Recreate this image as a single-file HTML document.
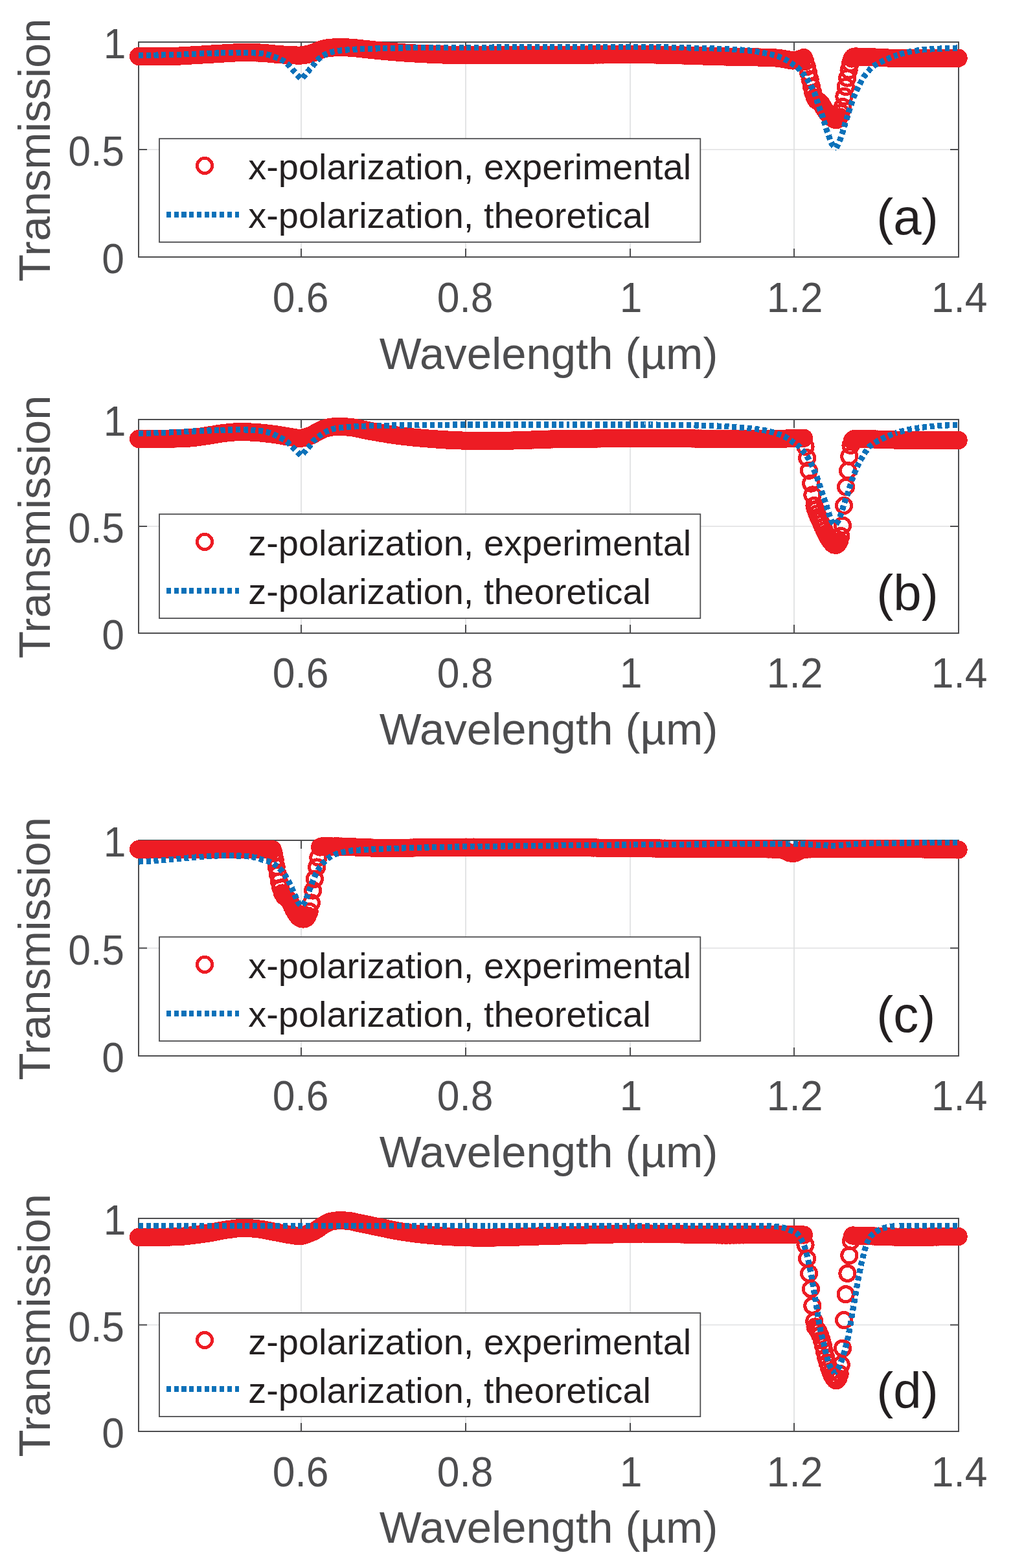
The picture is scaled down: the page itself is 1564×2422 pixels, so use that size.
<!DOCTYPE html>
<html lang="en"><head><meta charset="utf-8"><title>Transmission spectra</title>
<style>html,body{margin:0;padding:0;background:#fff}svg{display:block}text{font-family:"Liberation Sans",Arial,Helvetica,sans-serif}.t{font-size:62.4px;fill:#4d4d4f}.l{font-size:68.8px;fill:#4d4d4f}.g{font-size:55.95px;fill:#231f20}.p{font-size:78px;fill:#231f20}.r{fill:none;stroke:#ed1c24;stroke-width:5;shape-rendering:crispEdges}.b{fill:none;stroke:#0c71b9;stroke-width:9.2;stroke-dasharray:7.1 4.63;stroke-linejoin:bevel;shape-rendering:crispEdges}.a{fill:none;stroke:#4d4d4f;stroke-width:2}.gr{stroke:#dfe0e1;stroke-width:1.7;fill:none}</style></head><body>
<svg width="1564" height="2422" viewBox="0 0 1564 2422">
<rect width="1564" height="2422" fill="#fff"/>
<defs><circle id="m" r="11.6"/></defs>
<g><path class="gr" d="M465 65V397M719 65V397M973 65V397M1226 65V397M214 231H1480"/>
<path class="a" d="M214 65H1480V397H214ZM465 397v-13M465 65v13M719 397v-13M719 65v13M973 397v-13M973 65v13M1226 397v-13M1226 65v13M214 231h13M1480 231h-13"/>
<g class="r"><use href="#m" x="214" y="87"/><use href="#m" x="216.4" y="87"/><use href="#m" x="218.8" y="87"/><use href="#m" x="221.2" y="87"/><use href="#m" x="223.6" y="86.99"/><use href="#m" x="226" y="86.99"/><use href="#m" x="228.4" y="86.99"/><use href="#m" x="230.8" y="86.98"/><use href="#m" x="233.2" y="86.97"/><use href="#m" x="235.6" y="86.97"/><use href="#m" x="238" y="86.96"/><use href="#m" x="240.39" y="86.95"/><use href="#m" x="242.79" y="86.94"/><use href="#m" x="245.19" y="86.93"/><use href="#m" x="247.59" y="86.92"/><use href="#m" x="249.99" y="86.91"/><use href="#m" x="252.39" y="86.9"/><use href="#m" x="254.79" y="86.89"/><use href="#m" x="257.19" y="86.87"/><use href="#m" x="259.59" y="86.86"/><use href="#m" x="261.99" y="86.84"/><use href="#m" x="264.39" y="86.83"/><use href="#m" x="266.79" y="86.81"/><use href="#m" x="269.19" y="86.79"/><use href="#m" x="271.59" y="86.74"/><use href="#m" x="273.99" y="86.67"/><use href="#m" x="276.39" y="86.58"/><use href="#m" x="278.79" y="86.47"/><use href="#m" x="281.19" y="86.35"/><use href="#m" x="283.59" y="86.21"/><use href="#m" x="285.99" y="86.07"/><use href="#m" x="288.39" y="85.92"/><use href="#m" x="290.79" y="85.76"/><use href="#m" x="293.18" y="85.61"/><use href="#m" x="295.58" y="85.46"/><use href="#m" x="297.98" y="85.31"/><use href="#m" x="300.38" y="85.18"/><use href="#m" x="302.78" y="85.04"/><use href="#m" x="305.18" y="84.9"/><use href="#m" x="307.58" y="84.76"/><use href="#m" x="309.98" y="84.61"/><use href="#m" x="312.38" y="84.47"/><use href="#m" x="314.78" y="84.32"/><use href="#m" x="317.18" y="84.17"/><use href="#m" x="319.58" y="84.03"/><use href="#m" x="321.98" y="83.88"/><use href="#m" x="324.38" y="83.73"/><use href="#m" x="326.78" y="83.58"/><use href="#m" x="329.18" y="83.44"/><use href="#m" x="331.58" y="83.29"/><use href="#m" x="333.98" y="83.14"/><use href="#m" x="336.38" y="82.99"/><use href="#m" x="338.78" y="82.85"/><use href="#m" x="341.18" y="82.71"/><use href="#m" x="343.57" y="82.58"/><use href="#m" x="345.97" y="82.45"/><use href="#m" x="348.37" y="82.31"/><use href="#m" x="350.77" y="82.16"/><use href="#m" x="353.17" y="82"/><use href="#m" x="355.57" y="81.85"/><use href="#m" x="357.97" y="81.7"/><use href="#m" x="360.37" y="81.56"/><use href="#m" x="362.77" y="81.44"/><use href="#m" x="365.17" y="81.34"/><use href="#m" x="367.57" y="81.26"/><use href="#m" x="369.97" y="81.21"/><use href="#m" x="372.37" y="81.2"/><use href="#m" x="374.77" y="81.2"/><use href="#m" x="377.17" y="81.21"/><use href="#m" x="379.57" y="81.22"/><use href="#m" x="381.97" y="81.24"/><use href="#m" x="384.37" y="81.26"/><use href="#m" x="386.77" y="81.29"/><use href="#m" x="389.17" y="81.32"/><use href="#m" x="391.57" y="81.35"/><use href="#m" x="393.96" y="81.39"/><use href="#m" x="396.36" y="81.43"/><use href="#m" x="398.76" y="81.48"/><use href="#m" x="401.16" y="81.53"/><use href="#m" x="403.56" y="81.63"/><use href="#m" x="405.96" y="81.79"/><use href="#m" x="408.36" y="81.98"/><use href="#m" x="410.76" y="82.2"/><use href="#m" x="413.16" y="82.45"/><use href="#m" x="415.56" y="82.7"/><use href="#m" x="417.96" y="82.95"/><use href="#m" x="420.36" y="83.18"/><use href="#m" x="422.76" y="83.4"/><use href="#m" x="425.16" y="83.59"/><use href="#m" x="427.56" y="83.78"/><use href="#m" x="429.96" y="83.97"/><use href="#m" x="432.36" y="84.17"/><use href="#m" x="434.76" y="84.35"/><use href="#m" x="437.16" y="84.53"/><use href="#m" x="439.56" y="84.7"/><use href="#m" x="441.96" y="84.84"/><use href="#m" x="444.36" y="84.97"/><use href="#m" x="446.75" y="85.08"/><use href="#m" x="449.15" y="85.19"/><use href="#m" x="451.55" y="85.3"/><use href="#m" x="453.95" y="85.4"/><use href="#m" x="456.35" y="85.48"/><use href="#m" x="458.75" y="85.55"/><use href="#m" x="461.15" y="85.59"/><use href="#m" x="463.55" y="85.59"/><use href="#m" x="465.95" y="85.46"/><use href="#m" x="468.35" y="85.18"/><use href="#m" x="470.75" y="84.77"/><use href="#m" x="473.15" y="84.29"/><use href="#m" x="475.55" y="83.75"/><use href="#m" x="477.95" y="83.21"/><use href="#m" x="480.35" y="82.57"/><use href="#m" x="482.75" y="81.77"/><use href="#m" x="485.15" y="80.87"/><use href="#m" x="487.55" y="79.97"/><use href="#m" x="489.95" y="79.03"/><use href="#m" x="492.35" y="77.98"/><use href="#m" x="494.75" y="76.96"/><use href="#m" x="497.14" y="76.13"/><use href="#m" x="499.54" y="75.54"/><use href="#m" x="501.94" y="75.01"/><use href="#m" x="504.34" y="74.54"/><use href="#m" x="506.74" y="74.14"/><use href="#m" x="509.14" y="73.83"/><use href="#m" x="511.54" y="73.63"/><use href="#m" x="513.94" y="73.5"/><use href="#m" x="516.34" y="73.4"/><use href="#m" x="518.74" y="73.31"/><use href="#m" x="521.14" y="73.24"/><use href="#m" x="523.54" y="73.21"/><use href="#m" x="525.94" y="73.2"/><use href="#m" x="528.34" y="73.23"/><use href="#m" x="530.74" y="73.27"/><use href="#m" x="533.14" y="73.34"/><use href="#m" x="535.54" y="73.41"/><use href="#m" x="537.94" y="73.5"/><use href="#m" x="540.34" y="73.61"/><use href="#m" x="542.74" y="73.77"/><use href="#m" x="545.14" y="73.96"/><use href="#m" x="547.54" y="74.18"/><use href="#m" x="549.93" y="74.39"/><use href="#m" x="552.33" y="74.63"/><use href="#m" x="554.73" y="74.9"/><use href="#m" x="557.13" y="75.18"/><use href="#m" x="559.53" y="75.45"/><use href="#m" x="561.93" y="75.71"/><use href="#m" x="564.33" y="75.97"/><use href="#m" x="566.73" y="76.23"/><use href="#m" x="569.13" y="76.49"/><use href="#m" x="571.53" y="76.75"/><use href="#m" x="573.93" y="77.01"/><use href="#m" x="576.33" y="77.26"/><use href="#m" x="578.73" y="77.52"/><use href="#m" x="581.13" y="77.76"/><use href="#m" x="583.53" y="78"/><use href="#m" x="585.93" y="78.23"/><use href="#m" x="588.33" y="78.45"/><use href="#m" x="590.73" y="78.66"/><use href="#m" x="593.13" y="78.87"/><use href="#m" x="595.53" y="79.08"/><use href="#m" x="597.93" y="79.29"/><use href="#m" x="600.32" y="79.5"/><use href="#m" x="602.72" y="79.7"/><use href="#m" x="605.12" y="79.91"/><use href="#m" x="607.52" y="80.11"/><use href="#m" x="609.92" y="80.31"/><use href="#m" x="612.32" y="80.5"/><use href="#m" x="614.72" y="80.7"/><use href="#m" x="617.12" y="80.89"/><use href="#m" x="619.52" y="81.08"/><use href="#m" x="621.92" y="81.26"/><use href="#m" x="624.32" y="81.44"/><use href="#m" x="626.72" y="81.61"/><use href="#m" x="629.12" y="81.78"/><use href="#m" x="631.52" y="81.94"/><use href="#m" x="633.92" y="82.1"/><use href="#m" x="636.32" y="82.25"/><use href="#m" x="638.72" y="82.4"/><use href="#m" x="641.12" y="82.54"/><use href="#m" x="643.52" y="82.68"/><use href="#m" x="645.92" y="82.8"/><use href="#m" x="648.32" y="82.92"/><use href="#m" x="650.71" y="83.03"/><use href="#m" x="653.11" y="83.14"/><use href="#m" x="655.51" y="83.26"/><use href="#m" x="657.91" y="83.37"/><use href="#m" x="660.31" y="83.48"/><use href="#m" x="662.71" y="83.59"/><use href="#m" x="665.11" y="83.7"/><use href="#m" x="667.51" y="83.81"/><use href="#m" x="669.91" y="83.92"/><use href="#m" x="672.31" y="84.03"/><use href="#m" x="674.71" y="84.13"/><use href="#m" x="677.11" y="84.23"/><use href="#m" x="679.51" y="84.33"/><use href="#m" x="681.91" y="84.43"/><use href="#m" x="684.31" y="84.52"/><use href="#m" x="686.71" y="84.61"/><use href="#m" x="689.11" y="84.7"/><use href="#m" x="691.51" y="84.78"/><use href="#m" x="693.91" y="84.86"/><use href="#m" x="696.31" y="84.93"/><use href="#m" x="698.71" y="85"/><use href="#m" x="701.11" y="85.06"/><use href="#m" x="703.5" y="85.11"/><use href="#m" x="705.9" y="85.16"/><use href="#m" x="708.3" y="85.2"/><use href="#m" x="710.7" y="85.24"/><use href="#m" x="713.1" y="85.27"/><use href="#m" x="715.5" y="85.29"/><use href="#m" x="717.9" y="85.3"/><use href="#m" x="720.3" y="85.3"/><use href="#m" x="722.7" y="85.3"/><use href="#m" x="725.1" y="85.3"/><use href="#m" x="727.5" y="85.3"/><use href="#m" x="729.9" y="85.29"/><use href="#m" x="732.3" y="85.29"/><use href="#m" x="734.7" y="85.29"/><use href="#m" x="737.1" y="85.28"/><use href="#m" x="739.5" y="85.28"/><use href="#m" x="741.9" y="85.27"/><use href="#m" x="744.3" y="85.27"/><use href="#m" x="746.7" y="85.26"/><use href="#m" x="749.1" y="85.25"/><use href="#m" x="751.5" y="85.25"/><use href="#m" x="753.89" y="85.24"/><use href="#m" x="756.29" y="85.23"/><use href="#m" x="758.69" y="85.22"/><use href="#m" x="761.09" y="85.21"/><use href="#m" x="763.49" y="85.21"/><use href="#m" x="765.89" y="85.2"/><use href="#m" x="768.29" y="85.19"/><use href="#m" x="770.69" y="85.18"/><use href="#m" x="773.09" y="85.17"/><use href="#m" x="775.49" y="85.15"/><use href="#m" x="777.89" y="85.14"/><use href="#m" x="780.29" y="85.13"/><use href="#m" x="782.69" y="85.12"/><use href="#m" x="785.09" y="85.11"/><use href="#m" x="787.49" y="85.1"/><use href="#m" x="789.89" y="85.09"/><use href="#m" x="792.29" y="85.07"/><use href="#m" x="794.69" y="85.06"/><use href="#m" x="797.09" y="85.05"/><use href="#m" x="799.49" y="85.04"/><use href="#m" x="801.89" y="85.03"/><use href="#m" x="804.29" y="85.01"/><use href="#m" x="806.68" y="85"/><use href="#m" x="809.08" y="84.99"/><use href="#m" x="811.48" y="84.98"/><use href="#m" x="813.88" y="84.96"/><use href="#m" x="816.28" y="84.95"/><use href="#m" x="818.68" y="84.94"/><use href="#m" x="821.08" y="84.93"/><use href="#m" x="823.48" y="84.92"/><use href="#m" x="825.88" y="84.9"/><use href="#m" x="828.28" y="84.89"/><use href="#m" x="830.68" y="84.88"/><use href="#m" x="833.08" y="84.87"/><use href="#m" x="835.48" y="84.86"/><use href="#m" x="837.88" y="84.85"/><use href="#m" x="840.28" y="84.84"/><use href="#m" x="842.68" y="84.83"/><use href="#m" x="845.08" y="84.82"/><use href="#m" x="847.48" y="84.81"/><use href="#m" x="849.88" y="84.8"/><use href="#m" x="852.28" y="84.79"/><use href="#m" x="854.68" y="84.78"/><use href="#m" x="857.07" y="84.77"/><use href="#m" x="859.47" y="84.76"/><use href="#m" x="861.87" y="84.75"/><use href="#m" x="864.27" y="84.74"/><use href="#m" x="866.67" y="84.73"/><use href="#m" x="869.07" y="84.72"/><use href="#m" x="871.47" y="84.71"/><use href="#m" x="873.87" y="84.7"/><use href="#m" x="876.27" y="84.69"/><use href="#m" x="878.67" y="84.68"/><use href="#m" x="881.07" y="84.67"/><use href="#m" x="883.47" y="84.66"/><use href="#m" x="885.87" y="84.64"/><use href="#m" x="888.27" y="84.63"/><use href="#m" x="890.67" y="84.62"/><use href="#m" x="893.07" y="84.61"/><use href="#m" x="895.47" y="84.6"/><use href="#m" x="897.87" y="84.59"/><use href="#m" x="900.27" y="84.58"/><use href="#m" x="902.67" y="84.57"/><use href="#m" x="905.07" y="84.55"/><use href="#m" x="907.46" y="84.54"/><use href="#m" x="909.86" y="84.53"/><use href="#m" x="912.26" y="84.52"/><use href="#m" x="914.66" y="84.51"/><use href="#m" x="917.06" y="84.5"/><use href="#m" x="919.46" y="84.49"/><use href="#m" x="921.86" y="84.48"/><use href="#m" x="924.26" y="84.47"/><use href="#m" x="926.66" y="84.46"/><use href="#m" x="929.06" y="84.45"/><use href="#m" x="931.46" y="84.44"/><use href="#m" x="933.86" y="84.43"/><use href="#m" x="936.26" y="84.42"/><use href="#m" x="938.66" y="84.41"/><use href="#m" x="941.06" y="84.4"/><use href="#m" x="943.46" y="84.39"/><use href="#m" x="945.86" y="84.38"/><use href="#m" x="948.26" y="84.37"/><use href="#m" x="950.66" y="84.37"/><use href="#m" x="953.06" y="84.36"/><use href="#m" x="955.46" y="84.35"/><use href="#m" x="957.86" y="84.35"/><use href="#m" x="960.25" y="84.34"/><use href="#m" x="962.65" y="84.33"/><use href="#m" x="965.05" y="84.33"/><use href="#m" x="967.45" y="84.32"/><use href="#m" x="969.85" y="84.32"/><use href="#m" x="972.25" y="84.31"/><use href="#m" x="974.65" y="84.31"/><use href="#m" x="977.05" y="84.31"/><use href="#m" x="979.45" y="84.31"/><use href="#m" x="981.85" y="84.3"/><use href="#m" x="984.25" y="84.3"/><use href="#m" x="986.65" y="84.3"/><use href="#m" x="989.05" y="84.3"/><use href="#m" x="991.45" y="84.3"/><use href="#m" x="993.85" y="84.31"/><use href="#m" x="996.25" y="84.31"/><use href="#m" x="998.65" y="84.33"/><use href="#m" x="1001.05" y="84.34"/><use href="#m" x="1003.45" y="84.36"/><use href="#m" x="1005.85" y="84.39"/><use href="#m" x="1008.25" y="84.42"/><use href="#m" x="1010.64" y="84.45"/><use href="#m" x="1013.04" y="84.48"/><use href="#m" x="1015.44" y="84.52"/><use href="#m" x="1017.84" y="84.56"/><use href="#m" x="1020.24" y="84.6"/><use href="#m" x="1022.64" y="84.65"/><use href="#m" x="1025.04" y="84.7"/><use href="#m" x="1027.44" y="84.75"/><use href="#m" x="1029.84" y="84.8"/><use href="#m" x="1032.24" y="84.86"/><use href="#m" x="1034.64" y="84.92"/><use href="#m" x="1037.04" y="84.98"/><use href="#m" x="1039.44" y="85.04"/><use href="#m" x="1041.84" y="85.11"/><use href="#m" x="1044.24" y="85.17"/><use href="#m" x="1046.64" y="85.24"/><use href="#m" x="1049.04" y="85.31"/><use href="#m" x="1051.44" y="85.38"/><use href="#m" x="1053.84" y="85.46"/><use href="#m" x="1056.24" y="85.53"/><use href="#m" x="1058.64" y="85.6"/><use href="#m" x="1061.04" y="85.68"/><use href="#m" x="1063.43" y="85.76"/><use href="#m" x="1065.83" y="85.83"/><use href="#m" x="1068.23" y="85.91"/><use href="#m" x="1070.63" y="85.99"/><use href="#m" x="1073.03" y="86.07"/><use href="#m" x="1075.43" y="86.15"/><use href="#m" x="1077.83" y="86.22"/><use href="#m" x="1080.23" y="86.3"/><use href="#m" x="1082.63" y="86.38"/><use href="#m" x="1085.03" y="86.46"/><use href="#m" x="1087.43" y="86.54"/><use href="#m" x="1089.83" y="86.62"/><use href="#m" x="1092.23" y="86.69"/><use href="#m" x="1094.63" y="86.77"/><use href="#m" x="1097.03" y="86.84"/><use href="#m" x="1099.43" y="86.92"/><use href="#m" x="1101.83" y="86.99"/><use href="#m" x="1104.23" y="87.06"/><use href="#m" x="1106.63" y="87.13"/><use href="#m" x="1109.03" y="87.2"/><use href="#m" x="1111.43" y="87.27"/><use href="#m" x="1113.82" y="87.34"/><use href="#m" x="1116.22" y="87.4"/><use href="#m" x="1118.62" y="87.47"/><use href="#m" x="1121.02" y="87.53"/><use href="#m" x="1123.42" y="87.58"/><use href="#m" x="1125.82" y="87.64"/><use href="#m" x="1128.22" y="87.69"/><use href="#m" x="1130.62" y="87.74"/><use href="#m" x="1133.02" y="87.78"/><use href="#m" x="1135.42" y="87.83"/><use href="#m" x="1137.82" y="87.87"/><use href="#m" x="1140.22" y="87.91"/><use href="#m" x="1142.62" y="87.96"/><use href="#m" x="1145.02" y="88"/><use href="#m" x="1147.42" y="88.04"/><use href="#m" x="1149.82" y="88.08"/><use href="#m" x="1152.22" y="88.12"/><use href="#m" x="1154.62" y="88.16"/><use href="#m" x="1157.02" y="88.21"/><use href="#m" x="1159.42" y="88.25"/><use href="#m" x="1161.82" y="88.3"/><use href="#m" x="1164.21" y="88.35"/><use href="#m" x="1166.61" y="88.4"/><use href="#m" x="1169.01" y="88.46"/><use href="#m" x="1171.41" y="88.52"/><use href="#m" x="1173.81" y="88.58"/><use href="#m" x="1176.21" y="88.65"/><use href="#m" x="1178.61" y="88.72"/><use href="#m" x="1181.01" y="88.8"/><use href="#m" x="1183.41" y="88.88"/><use href="#m" x="1185.81" y="88.96"/><use href="#m" x="1188.21" y="89.06"/><use href="#m" x="1190.61" y="89.16"/><use href="#m" x="1193.01" y="89.26"/><use href="#m" x="1195.41" y="89.37"/><use href="#m" x="1197.81" y="89.49"/><use href="#m" x="1200.21" y="89.66"/><use href="#m" x="1202.61" y="89.94"/><use href="#m" x="1205.01" y="90.28"/><use href="#m" x="1207.41" y="90.67"/><use href="#m" x="1209.81" y="91.06"/><use href="#m" x="1212.21" y="91.43"/><use href="#m" x="1214.61" y="91.87"/><use href="#m" x="1217" y="92.37"/><use href="#m" x="1219.4" y="92.87"/><use href="#m" x="1221.8" y="93.27"/><use href="#m" x="1224.2" y="93.48"/><use href="#m" x="1226.6" y="93.41"/><use href="#m" x="1229" y="93"/><use href="#m" x="1231.4" y="92.41"/><use href="#m" x="1233.8" y="91.79"/><use href="#m" x="1236.2" y="91.04"/><use href="#m" x="1238.6" y="90.13"/><use href="#m" x="1241" y="89.1"/><use href="#m" x="1243.4" y="95"/><use href="#m" x="1245.8" y="103"/><use href="#m" x="1248.2" y="112.5"/><use href="#m" x="1250.6" y="122.5"/><use href="#m" x="1253" y="133.5"/><use href="#m" x="1255.4" y="143.5"/><use href="#m" x="1257.8" y="150.5"/><use href="#m" x="1260.2" y="154.5"/><use href="#m" x="1262.6" y="156"/><use href="#m" x="1265" y="157"/><use href="#m" x="1267.4" y="159.5"/><use href="#m" x="1269.8" y="163.5"/><use href="#m" x="1272.2" y="167.5"/><use href="#m" x="1274.6" y="171"/><use href="#m" x="1277" y="174.5"/><use href="#m" x="1279.4" y="177.5"/><use href="#m" x="1281.8" y="180"/><use href="#m" x="1284.2" y="182"/><use href="#m" x="1286.6" y="183.6"/><use href="#m" x="1289" y="184.8"/><use href="#m" x="1291.4" y="185.2"/><use href="#m" x="1293.8" y="184"/><use href="#m" x="1296.2" y="180.5"/><use href="#m" x="1298.6" y="174.5"/><use href="#m" x="1301" y="165"/><use href="#m" x="1303.4" y="149"/><use href="#m" x="1305.8" y="134"/><use href="#m" x="1308.2" y="120.5"/><use href="#m" x="1310.6" y="108.5"/><use href="#m" x="1313" y="98"/><use href="#m" x="1315.4" y="90.5"/><use href="#m" x="1317.8" y="88"/><use href="#m" x="1320.2" y="87.5"/><use href="#m" x="1322.6" y="87.5"/><use href="#m" x="1325.02" y="87.59"/><use href="#m" x="1327.43" y="87.67"/><use href="#m" x="1329.85" y="87.76"/><use href="#m" x="1332.26" y="87.85"/><use href="#m" x="1334.68" y="87.94"/><use href="#m" x="1337.09" y="88.03"/><use href="#m" x="1339.51" y="88.11"/><use href="#m" x="1341.92" y="88.2"/><use href="#m" x="1344.34" y="88.29"/><use href="#m" x="1346.75" y="88.38"/><use href="#m" x="1349.17" y="88.47"/><use href="#m" x="1351.58" y="88.56"/><use href="#m" x="1354" y="88.66"/><use href="#m" x="1356.42" y="88.77"/><use href="#m" x="1358.83" y="88.89"/><use href="#m" x="1361.25" y="89"/><use href="#m" x="1363.66" y="89.12"/><use href="#m" x="1366.08" y="89.24"/><use href="#m" x="1368.49" y="89.36"/><use href="#m" x="1370.91" y="89.48"/><use href="#m" x="1373.32" y="89.59"/><use href="#m" x="1375.74" y="89.68"/><use href="#m" x="1378.15" y="89.77"/><use href="#m" x="1380.57" y="89.85"/><use href="#m" x="1382.98" y="89.92"/><use href="#m" x="1385.4" y="89.96"/><use href="#m" x="1387.82" y="89.99"/><use href="#m" x="1390.23" y="90"/><use href="#m" x="1392.65" y="90"/><use href="#m" x="1395.06" y="90"/><use href="#m" x="1397.48" y="90"/><use href="#m" x="1399.89" y="90"/><use href="#m" x="1402.31" y="90"/><use href="#m" x="1404.72" y="90"/><use href="#m" x="1407.14" y="90"/><use href="#m" x="1409.55" y="90"/><use href="#m" x="1411.97" y="90"/><use href="#m" x="1414.38" y="90"/><use href="#m" x="1416.8" y="90"/><use href="#m" x="1419.22" y="90"/><use href="#m" x="1421.63" y="90"/><use href="#m" x="1424.05" y="90"/><use href="#m" x="1426.46" y="90"/><use href="#m" x="1428.88" y="90"/><use href="#m" x="1431.29" y="90"/><use href="#m" x="1433.71" y="90"/><use href="#m" x="1436.12" y="90"/><use href="#m" x="1438.54" y="90"/><use href="#m" x="1440.95" y="90"/><use href="#m" x="1443.37" y="90"/><use href="#m" x="1445.78" y="89.99"/><use href="#m" x="1448.2" y="89.98"/><use href="#m" x="1450.62" y="89.97"/><use href="#m" x="1453.03" y="89.96"/><use href="#m" x="1455.45" y="89.94"/><use href="#m" x="1457.86" y="89.92"/><use href="#m" x="1460.28" y="89.9"/><use href="#m" x="1462.69" y="89.88"/><use href="#m" x="1465.11" y="89.85"/><use href="#m" x="1467.52" y="89.83"/><use href="#m" x="1469.94" y="89.81"/><use href="#m" x="1472.35" y="89.78"/><use href="#m" x="1474.77" y="89.75"/><use href="#m" x="1477.18" y="89.73"/><use href="#m" x="1479.6" y="89.7"/></g>
<path class="b" stroke-dashoffset="0" d="M214 85.5L215.5 85.49L217 85.47L218.5 85.46L220 85.44L221.5 85.42L223 85.41L224.5 85.39L226 85.37L227.5 85.34L229 85.32L230.5 85.3L232 85.27L233.5 85.25L235 85.22L236.5 85.2L238 85.17L239.5 85.14L241 85.11L242.5 85.08L244 85.05L245.5 85.02L247 84.99L248.5 84.96L250 84.93L251.5 84.89L253 84.86L254.5 84.83L256 84.79L257.5 84.76L259 84.72L260.5 84.68L262 84.65L263.5 84.61L265 84.57L266.5 84.54L268 84.5L269.5 84.46L271 84.42L272.5 84.37L274 84.33L275.5 84.28L277 84.22L278.5 84.17L280 84.11L281.5 84.06L283 84L284.5 83.93L286 83.87L287.5 83.81L289 83.74L290.5 83.68L292 83.61L293.5 83.55L295 83.48L296.5 83.41L298 83.35L299.5 83.28L301 83.22L302.5 83.15L304 83.09L305.5 83.02L307 82.96L308.5 82.9L310 82.84L311.5 82.79L313 82.73L314.5 82.68L316 82.63L317.5 82.58L319 82.53L320.5 82.49L322 82.44L323.5 82.4L325 82.35L326.5 82.3L328 82.26L329.5 82.21L331 82.16L332.5 82.12L334 82.07L335.5 82.02L337 81.98L338.5 81.93L340 81.88"/>
<path class="b" stroke-dashoffset="9.43" d="M465.6 122L464.5 120.99L463 119.57L461.5 118.11L460 116.61L458.5 115.07L457 113.5L455.5 111.89L454 110.25L452.5 108.54L451 106.67L449.5 104.74L448 102.87L446.5 101.19L445 99.76L443.5 98.43L442 97.16L440.5 95.98L439 94.89L437.5 93.9L436 93.01L434.5 92.22L433 91.48L431.5 90.8L430 90.16L428.5 89.57L427 89L425.5 88.46L424 87.94L422.5 87.42L421 86.9L419.5 86.36L418 85.83L416.5 85.3L415 84.8L413.5 84.32L412 83.89L410.5 83.5L409 83.18L407.5 82.92L406 82.73L404.5 82.62L403 82.5L401.5 82.4L400 82.29L398.5 82.19L397 82.1L395.5 82.01L394 81.93L392.5 81.85L391 81.77L389.5 81.7L388 81.64L386.5 81.58L385 81.53L383.5 81.48L382 81.44L380.5 81.4L379 81.37L377.5 81.34L376 81.32L374.5 81.31L373 81.3L371.5 81.3L370 81.3L368.5 81.31L367 81.32L365.5 81.33L364 81.34L362.5 81.36L361 81.38L359.5 81.41L358 81.43L356.5 81.46L355 81.49L353.5 81.52L352 81.56L350.5 81.59L349 81.63L347.5 81.67L346 81.71L344.5 81.75L343 81.79L341.5 81.84L340 81.88"/>
<path class="b" stroke-dashoffset="9.4" d="M465.6 122L467.1 120.23L468.6 118.47L470.1 116.71L471.6 114.95L473.1 113.19L474.6 111.43L476.1 109.67L477.6 107.92L479.1 106.16L480.6 104.39L482.1 102.63L483.6 100.87L485.1 99.14L486.6 97.43L488.1 95.66L489.6 93.89L491.1 92.18L492.6 90.64L494.1 89.34L495.6 88.21L497.1 87.15L498.6 86.17L500.1 85.28L501.6 84.46L503.1 83.73L504.6 83.08L506.1 82.48L507.6 81.93L509.1 81.42L510.6 80.95L512.1 80.53L513.6 80.15L515.1 79.81L516.6 79.5L518.1 79.21L519.6 78.94L521.1 78.69L522.6 78.46L524.1 78.24L525.6 78.04L527.1 77.87L528.6 77.7L530.1 77.55L531.6 77.4L533.1 77.26L534.6 77.12L536.1 76.99L537.6 76.86L539.1 76.74L540.6 76.63L542.1 76.52L543.6 76.42L545.1 76.32L546.6 76.23L548.1 76.15L549.6 76.07L551.1 76L552.6 75.93L554.1 75.86L555.6 75.8L557.1 75.75L558.6 75.69L560.1 75.64L561.6 75.59L563.1 75.55L564.6 75.5L566.1 75.45L567.6 75.41L569.1 75.37L570.6 75.32L572.1 75.27L573.6 75.23L575.1 75.18L576.6 75.13L578.1 75.07L579.6 75.02L581.1 74.97L582.6 74.92L584.1 74.87L585.6 74.82L587.1 74.78L588.6 74.74L590.1 74.7L591.6 74.66L593.1 74.62L594.6 74.59L596.1 74.55L597.6 74.51L599.1 74.48L600.6 74.44L602.1 74.4L603.6 74.37L605.1 74.33L606.6 74.3L608.1 74.26L609.6 74.23L611.1 74.19L612.6 74.16L614.1 74.13L615.6 74.09L617.1 74.06L618.6 74.03L620.1 74L621.6 73.97L623.1 73.94L624.6 73.91L626.1 73.89L627.6 73.86L629.1 73.84L630.6 73.81L632.1 73.79L633.6 73.76L635.1 73.74L636.6 73.72L638.1 73.7L639.6 73.69L641.1 73.67L642.6 73.66L644.1 73.64L645.6 73.63L647.1 73.62L648.6 73.61L650.1 73.6L651.6 73.59L653.1 73.59L654.6 73.58L656.1 73.57L657.6 73.57L659.1 73.56L660.6 73.55L662.1 73.55L663.6 73.54L665.1 73.54L666.6 73.54L668.1 73.53L669.6 73.53L671.1 73.52L672.6 73.52L674.1 73.52L675.6 73.51L677.1 73.51L678.6 73.5L680.1 73.5L681.6 73.5L683.1 73.5L684.6 73.49L686.1 73.49L687.6 73.49L689.1 73.48L690.6 73.48L692.1 73.48L693.6 73.47L695.1 73.47L696.6 73.47L698.1 73.46L699.6 73.46L701.1 73.46L702.6 73.45L704.1 73.45L705.6 73.45L707.1 73.44L708.6 73.44L710.1 73.43L711.6 73.43L713.1 73.43L714.6 73.42L716.1 73.41L717.6 73.41L719.1 73.4L720.6 73.4L722.1 73.39L723.6 73.38L725.1 73.38L726.6 73.37L728.1 73.36L729.6 73.35L731.1 73.34L732.6 73.33L734.1 73.32L735.6 73.31L737.1 73.3L738.6 73.29L740.1 73.28L741.6 73.27L743.1 73.25L744.6 73.24L746.1 73.23L747.6 73.21L749.1 73.2L750.6 73.19L752.1 73.17L753.6 73.16L755.1 73.14L756.6 73.13L758.1 73.11L759.6 73.1L761.1 73.08L762.6 73.07L764.1 73.05L765.6 73.04L767.1 73.02L768.6 73L770.1 72.99L771.6 72.97L773.1 72.96L774.6 72.94L776.1 72.92L777.6 72.91L779.1 72.89L780.6 72.87L782.1 72.86L783.6 72.84L785.1 72.82L786.6 72.81L788.1 72.79L789.6 72.77L791.1 72.76L792.6 72.74L794.1 72.72L795.6 72.71L797.1 72.69L798.6 72.68L800.1 72.66L801.6 72.64L803.1 72.63L804.6 72.61L806.1 72.6L807.6 72.58L809.1 72.57L810.6 72.56L812.1 72.54L813.6 72.53L815.1 72.51L816.6 72.5L818.1 72.49L819.6 72.47L821.1 72.46L822.6 72.45L824.1 72.44L825.6 72.43L827.1 72.42L828.6 72.4L830.1 72.39L831.6 72.38L833.1 72.37L834.6 72.37L836.1 72.36L837.6 72.35L839.1 72.34L840.6 72.33L842.1 72.33L843.6 72.32L845.1 72.32L846.6 72.31L848.1 72.31L849.6 72.3L851.1 72.3L852.6 72.29L854.1 72.29L855.6 72.29L857.1 72.28L858.6 72.28L860.1 72.28L861.6 72.27L863.1 72.27L864.6 72.27L866.1 72.26L867.6 72.26L869.1 72.25L870.6 72.25L872.1 72.25L873.6 72.24L875.1 72.24L876.6 72.24L878.1 72.23L879.6 72.23"/>
<path class="b" stroke-dashoffset="6.6" d="M1291.3 228.5L1290.6 228.41L1289.1 227.68L1287.6 226.33L1286.1 224.54L1284.6 222.47L1283.1 219.86L1281.6 215.7L1280.1 211.16L1278.6 207.06L1277.1 202.9L1275.6 198.48L1274.1 193.68L1272.6 188.8L1271.1 183.98L1269.6 179.23L1268.1 174.75L1266.6 170.51L1265.1 166.29L1263.6 162.03L1262.1 157.74L1260.6 153.23L1259.1 148.29L1257.6 143.85L1256.1 140.43L1254.6 137.47L1253.1 134.69L1251.6 131.86L1250.1 129.01L1248.6 126.24L1247.1 123.69L1245.6 121.41L1244.1 119.34L1242.6 117.39L1241.1 115.51L1239.6 113.62L1238.1 111.66L1236.6 109.7L1235.1 107.84L1233.6 106.16L1232.1 104.77L1230.6 103.56L1229.1 102.48L1227.6 101.48L1226.1 100.54L1224.6 99.61L1223.1 98.66L1221.6 97.67L1220.1 96.67L1218.6 95.67L1217.1 94.69L1215.6 93.75L1214.1 92.86L1212.6 92.04L1211.1 91.27L1209.6 90.53L1208.1 89.81L1206.6 89.14L1205.1 88.5L1203.6 87.91L1202.1 87.36L1200.6 86.84L1199.1 86.36L1197.6 85.9L1196.1 85.46L1194.6 85.05L1193.1 84.65L1191.6 84.27L1190.1 83.91L1188.6 83.56L1187.1 83.22L1185.6 82.89L1184.1 82.58L1182.6 82.28L1181.1 81.98L1179.6 81.7L1178.1 81.42L1176.6 81.14L1175.1 80.86L1173.6 80.58L1172.1 80.31L1170.6 80.04L1169.1 79.78L1167.6 79.52L1166.1 79.28L1164.6 79.05L1163.1 78.82L1161.6 78.61L1160.1 78.42L1158.6 78.24L1157.1 78.09L1155.6 77.95L1154.1 77.81L1152.6 77.68L1151.1 77.56L1149.6 77.43L1148.1 77.31L1146.6 77.2L1145.1 77.09L1143.6 76.98L1142.1 76.87L1140.6 76.77L1139.1 76.67L1137.6 76.57L1136.1 76.48L1134.6 76.39L1133.1 76.3L1131.6 76.22L1130.1 76.13L1128.6 76.05L1127.1 75.97L1125.6 75.9L1124.1 75.82L1122.6 75.75L1121.1 75.68L1119.6 75.62L1118.1 75.55L1116.6 75.48L1115.1 75.42L1113.6 75.36L1112.1 75.3L1110.6 75.24L1109.1 75.18L1107.6 75.13L1106.1 75.08L1104.6 75.02L1103.1 74.97L1101.6 74.92L1100.1 74.88L1098.6 74.83L1097.1 74.78L1095.6 74.74L1094.1 74.7L1092.6 74.65L1091.1 74.61L1089.6 74.57L1088.1 74.53L1086.6 74.49L1085.1 74.46L1083.6 74.42L1082.1 74.38L1080.6 74.34L1079.1 74.31L1077.6 74.27L1076.1 74.23L1074.6 74.2L1073.1 74.16L1071.6 74.12L1070.1 74.09L1068.6 74.05L1067.1 74.01L1065.6 73.98L1064.1 73.94L1062.6 73.9L1061.1 73.86L1059.6 73.82L1058.1 73.77L1056.6 73.73L1055.1 73.68L1053.6 73.64L1052.1 73.59L1050.6 73.55L1049.1 73.5L1047.6 73.45L1046.1 73.4L1044.6 73.35L1043.1 73.3L1041.6 73.25L1040.1 73.2L1038.6 73.15L1037.1 73.11L1035.6 73.06L1034.1 73.01L1032.6 72.96L1031.1 72.91L1029.6 72.86L1028.1 72.82L1026.6 72.77L1025.1 72.72L1023.6 72.68L1022.1 72.63L1020.6 72.59L1019.1 72.55L1017.6 72.51L1016.1 72.47L1014.6 72.43L1013.1 72.4L1011.6 72.36L1010.1 72.33L1008.6 72.3L1007.1 72.27L1005.6 72.24L1004.1 72.22L1002.6 72.2L1001.1 72.18L999.6 72.16L998.1 72.14L996.6 72.13L995.1 72.12L993.6 72.11L992.1 72.1L990.6 72.1L989.1 72.1L987.6 72.1L986.1 72.1L984.6 72.1L983.1 72.1L981.6 72.1L980.1 72.1L978.6 72.1L977.1 72.1L975.6 72.1L974.1 72.1L972.6 72.1L971.1 72.1L969.6 72.11L968.1 72.11L966.6 72.11L965.1 72.11L963.6 72.11L962.1 72.11L960.6 72.11L959.1 72.11L957.6 72.11L956.1 72.11L954.6 72.12L953.1 72.12L951.6 72.12L950.1 72.12L948.6 72.12L947.1 72.12L945.6 72.12L944.1 72.13L942.6 72.13L941.1 72.13L939.6 72.13L938.1 72.13L936.6 72.13L935.1 72.14L933.6 72.14L932.1 72.14L930.6 72.14L929.1 72.14L927.6 72.15L926.1 72.15L924.6 72.15L923.1 72.15L921.6 72.15L920.1 72.16L918.6 72.16L917.1 72.16L915.6 72.16L914.1 72.17L912.6 72.17L911.1 72.17L909.6 72.17L908.1 72.18L906.6 72.18L905.1 72.18L903.6 72.18L902.1 72.19L900.6 72.19L899.1 72.19L897.6 72.2L896.1 72.2L894.6 72.2L893.1 72.2L891.6 72.21L890.1 72.21L888.6 72.21L887.1 72.22L885.6 72.22L884.1 72.22L882.6 72.23L881.1 72.23L879.6 72.23"/>
<path class="b" stroke-dashoffset="0.5" d="M1291.3 228.5L1292.8 225.61L1294.3 222.37L1295.8 218.82L1297.3 215.02L1298.8 210.77L1300.3 206.13L1301.8 201.22L1303.3 195.9L1304.8 190.93L1306.3 186.49L1307.8 181.93L1309.3 176.64L1310.8 171.26L1312.3 166.59L1313.8 162.26L1315.3 157.97L1316.8 153.66L1318.3 149.57L1319.8 145.91L1321.3 142.56L1322.8 139.37L1324.3 136.22L1325.8 133.13L1327.3 130.14L1328.8 127.32L1330.3 124.6L1331.8 121.97L1333.3 119.5L1334.8 117.24L1336.3 115.19L1337.8 113.28L1339.3 111.49L1340.8 109.8L1342.3 108.2L1343.8 106.65L1345.3 105.16L1346.8 103.77L1348.3 102.52L1349.8 101.44L1351.3 100.44L1352.8 99.51L1354.3 98.64L1355.8 97.81L1357.3 97.03L1358.8 96.27L1360.3 95.53L1361.8 94.81L1363.3 94.09L1364.8 93.4L1366.3 92.71L1367.8 92.04L1369.3 91.39L1370.8 90.75L1372.3 90.13L1373.8 89.52L1375.3 88.93L1376.8 88.36L1378.3 87.79L1379.8 87.25L1381.3 86.71L1382.8 86.19L1384.3 85.68L1385.8 85.16"/>
<path class="b" stroke-dashoffset="9.53" d="M1480 74L1478.8 74.03L1477.3 74.07L1475.8 74.11L1474.3 74.16L1472.8 74.2L1471.3 74.25L1469.8 74.31L1468.3 74.36L1466.8 74.42L1465.3 74.48L1463.8 74.54L1462.3 74.6L1460.8 74.67L1459.3 74.74L1457.8 74.81L1456.3 74.88L1454.8 74.95L1453.3 75.02L1451.8 75.09L1450.3 75.17L1448.8 75.25L1447.3 75.32L1445.8 75.41L1444.3 75.49L1442.8 75.58L1441.3 75.67L1439.8 75.76L1438.3 75.86L1436.8 75.96L1435.3 76.07L1433.8 76.18L1432.3 76.29L1430.8 76.41L1429.3 76.53L1427.8 76.66L1426.3 76.8L1424.8 76.94L1423.3 77.1L1421.8 77.26L1420.3 77.43L1418.8 77.62L1417.3 77.81L1415.8 78.01L1414.3 78.22L1412.8 78.45L1411.3 78.68L1409.8 78.92L1408.3 79.17L1406.8 79.44L1405.3 79.71L1403.8 80L1402.3 80.31L1400.8 80.65L1399.3 81.02L1397.8 81.41L1396.3 81.82L1394.8 82.26L1393.3 82.71L1391.8 83.18L1390.3 83.66L1388.8 84.15L1387.3 84.65L1385.8 85.16"/>
<rect x="246" y="214.2" width="835.3" height="159.8" fill="#fff" stroke="#4d4d4f" stroke-width="1.8"/>
<use href="#m" class="r" x="316" y="255.9"/>
<path class="b" d="M257 331.5H369.4"/>
<text class="g" x="383.2" y="277.4">x-polarization, experimental</text>
<text class="g" x="383.2" y="352.4">x-polarization, theoretical</text>
<text class="p" x="1353.3" y="361.5">(a)</text>
<text class="t" transform="translate(464.2 482.1) scale(1 1.04)" text-anchor="middle">0.6</text>
<text class="t" transform="translate(718.2 482.1) scale(1 1.04)" text-anchor="middle">0.8</text>
<text class="t" transform="translate(974.2 482.1) scale(1 1.04)" text-anchor="middle">1</text>
<text class="t" transform="translate(1227.2 482.1) scale(1 1.04)" text-anchor="middle">1.2</text>
<text class="t" transform="translate(1481.2 482.1) scale(1 1.04)" text-anchor="middle">1.4</text>
<text class="t" transform="translate(192 422.2) scale(1 1.04)" text-anchor="end">0</text>
<text class="t" transform="translate(192 256.2) scale(1 1.04)" text-anchor="end">0.5</text>
<text class="t" transform="translate(194.5 90.2) scale(1 1.04)" text-anchor="end">1</text>
<text class="l" x="847" y="569.9" text-anchor="middle">Wavelength (µm)</text>
<text class="l" transform="translate(76.9 231.7) rotate(-90)" text-anchor="middle">Transmission</text></g>
<g><path class="gr" d="M465 648V978M719 648V978M973 648V978M1226 648V978M214 813H1480"/>
<path class="a" d="M214 648H1480V978H214ZM465 978v-13M465 648v13M719 978v-13M719 648v13M973 978v-13M973 648v13M1226 978v-13M1226 648v13M214 813h13M1480 813h-13"/>
<g class="r"><use href="#m" x="214" y="678"/><use href="#m" x="216.4" y="678"/><use href="#m" x="218.8" y="678"/><use href="#m" x="221.2" y="677.99"/><use href="#m" x="223.6" y="677.98"/><use href="#m" x="226" y="677.97"/><use href="#m" x="228.4" y="677.96"/><use href="#m" x="230.8" y="677.94"/><use href="#m" x="233.2" y="677.93"/><use href="#m" x="235.6" y="677.91"/><use href="#m" x="238" y="677.89"/><use href="#m" x="240.39" y="677.87"/><use href="#m" x="242.79" y="677.84"/><use href="#m" x="245.19" y="677.82"/><use href="#m" x="247.59" y="677.79"/><use href="#m" x="249.99" y="677.76"/><use href="#m" x="252.39" y="677.73"/><use href="#m" x="254.79" y="677.7"/><use href="#m" x="257.19" y="677.67"/><use href="#m" x="259.59" y="677.63"/><use href="#m" x="261.99" y="677.6"/><use href="#m" x="264.39" y="677.56"/><use href="#m" x="266.79" y="677.52"/><use href="#m" x="269.19" y="677.48"/><use href="#m" x="271.59" y="677.43"/><use href="#m" x="273.99" y="677.36"/><use href="#m" x="276.39" y="677.28"/><use href="#m" x="278.79" y="677.2"/><use href="#m" x="281.19" y="677.1"/><use href="#m" x="283.59" y="676.99"/><use href="#m" x="285.99" y="676.87"/><use href="#m" x="288.39" y="676.74"/><use href="#m" x="290.79" y="676.6"/><use href="#m" x="293.18" y="676.45"/><use href="#m" x="295.58" y="676.29"/><use href="#m" x="297.98" y="676.07"/><use href="#m" x="300.38" y="675.82"/><use href="#m" x="302.78" y="675.53"/><use href="#m" x="305.18" y="675.2"/><use href="#m" x="307.58" y="674.86"/><use href="#m" x="309.98" y="674.5"/><use href="#m" x="312.38" y="674.14"/><use href="#m" x="314.78" y="673.77"/><use href="#m" x="317.18" y="673.41"/><use href="#m" x="319.58" y="673.06"/><use href="#m" x="321.98" y="672.71"/><use href="#m" x="324.38" y="672.35"/><use href="#m" x="326.78" y="671.96"/><use href="#m" x="329.18" y="671.56"/><use href="#m" x="331.58" y="671.15"/><use href="#m" x="333.98" y="670.74"/><use href="#m" x="336.38" y="670.34"/><use href="#m" x="338.78" y="669.96"/><use href="#m" x="341.18" y="669.59"/><use href="#m" x="343.57" y="669.24"/><use href="#m" x="345.97" y="668.93"/><use href="#m" x="348.37" y="668.66"/><use href="#m" x="350.77" y="668.43"/><use href="#m" x="353.17" y="668.2"/><use href="#m" x="355.57" y="667.97"/><use href="#m" x="357.97" y="667.75"/><use href="#m" x="360.37" y="667.55"/><use href="#m" x="362.77" y="667.36"/><use href="#m" x="365.17" y="667.21"/><use href="#m" x="367.57" y="667.09"/><use href="#m" x="369.97" y="667.02"/><use href="#m" x="372.37" y="667"/><use href="#m" x="374.77" y="667.02"/><use href="#m" x="377.17" y="667.07"/><use href="#m" x="379.57" y="667.15"/><use href="#m" x="381.97" y="667.25"/><use href="#m" x="384.37" y="667.37"/><use href="#m" x="386.77" y="667.5"/><use href="#m" x="389.17" y="667.64"/><use href="#m" x="391.57" y="667.79"/><use href="#m" x="393.96" y="667.94"/><use href="#m" x="396.36" y="668.09"/><use href="#m" x="398.76" y="668.26"/><use href="#m" x="401.16" y="668.45"/><use href="#m" x="403.56" y="668.66"/><use href="#m" x="405.96" y="668.88"/><use href="#m" x="408.36" y="669.13"/><use href="#m" x="410.76" y="669.39"/><use href="#m" x="413.16" y="669.66"/><use href="#m" x="415.56" y="669.94"/><use href="#m" x="417.96" y="670.23"/><use href="#m" x="420.36" y="670.53"/><use href="#m" x="422.76" y="670.84"/><use href="#m" x="425.16" y="671.16"/><use href="#m" x="427.56" y="671.51"/><use href="#m" x="429.96" y="671.91"/><use href="#m" x="432.36" y="672.32"/><use href="#m" x="434.76" y="672.76"/><use href="#m" x="437.16" y="673.19"/><use href="#m" x="439.56" y="673.62"/><use href="#m" x="441.96" y="674.03"/><use href="#m" x="444.36" y="674.41"/><use href="#m" x="446.75" y="674.77"/><use href="#m" x="449.15" y="675.17"/><use href="#m" x="451.55" y="675.57"/><use href="#m" x="453.95" y="675.97"/><use href="#m" x="456.35" y="676.31"/><use href="#m" x="458.75" y="676.59"/><use href="#m" x="461.15" y="676.76"/><use href="#m" x="463.55" y="676.79"/><use href="#m" x="465.95" y="676.61"/><use href="#m" x="468.35" y="676.22"/><use href="#m" x="470.75" y="675.67"/><use href="#m" x="473.15" y="675.01"/><use href="#m" x="475.55" y="674.27"/><use href="#m" x="477.95" y="673.52"/><use href="#m" x="480.35" y="672.59"/><use href="#m" x="482.75" y="671.38"/><use href="#m" x="485.15" y="670.01"/><use href="#m" x="487.55" y="668.62"/><use href="#m" x="489.95" y="667.33"/><use href="#m" x="492.35" y="666.09"/><use href="#m" x="494.75" y="664.82"/><use href="#m" x="497.14" y="663.63"/><use href="#m" x="499.54" y="662.65"/><use href="#m" x="501.94" y="661.87"/><use href="#m" x="504.34" y="661.14"/><use href="#m" x="506.74" y="660.49"/><use href="#m" x="509.14" y="659.98"/><use href="#m" x="511.54" y="659.64"/><use href="#m" x="513.94" y="659.45"/><use href="#m" x="516.34" y="659.29"/><use href="#m" x="518.74" y="659.16"/><use href="#m" x="521.14" y="659.06"/><use href="#m" x="523.54" y="659.01"/><use href="#m" x="525.94" y="659"/><use href="#m" x="528.34" y="659.05"/><use href="#m" x="530.74" y="659.15"/><use href="#m" x="533.14" y="659.28"/><use href="#m" x="535.54" y="659.43"/><use href="#m" x="537.94" y="659.6"/><use href="#m" x="540.34" y="659.81"/><use href="#m" x="542.74" y="660.11"/><use href="#m" x="545.14" y="660.47"/><use href="#m" x="547.54" y="660.87"/><use href="#m" x="549.93" y="661.29"/><use href="#m" x="552.33" y="661.76"/><use href="#m" x="554.73" y="662.3"/><use href="#m" x="557.13" y="662.87"/><use href="#m" x="559.53" y="663.4"/><use href="#m" x="561.93" y="663.89"/><use href="#m" x="564.33" y="664.37"/><use href="#m" x="566.73" y="664.84"/><use href="#m" x="569.13" y="665.3"/><use href="#m" x="571.53" y="665.75"/><use href="#m" x="573.93" y="666.2"/><use href="#m" x="576.33" y="666.63"/><use href="#m" x="578.73" y="667.07"/><use href="#m" x="581.13" y="667.49"/><use href="#m" x="583.53" y="667.91"/><use href="#m" x="585.93" y="668.32"/><use href="#m" x="588.33" y="668.72"/><use href="#m" x="590.73" y="669.12"/><use href="#m" x="593.13" y="669.52"/><use href="#m" x="595.53" y="669.91"/><use href="#m" x="597.93" y="670.3"/><use href="#m" x="600.32" y="670.68"/><use href="#m" x="602.72" y="671.06"/><use href="#m" x="605.12" y="671.44"/><use href="#m" x="607.52" y="671.8"/><use href="#m" x="609.92" y="672.15"/><use href="#m" x="612.32" y="672.5"/><use href="#m" x="614.72" y="672.83"/><use href="#m" x="617.12" y="673.14"/><use href="#m" x="619.52" y="673.44"/><use href="#m" x="621.92" y="673.73"/><use href="#m" x="624.32" y="674.01"/><use href="#m" x="626.72" y="674.28"/><use href="#m" x="629.12" y="674.55"/><use href="#m" x="631.52" y="674.81"/><use href="#m" x="633.92" y="675.06"/><use href="#m" x="636.32" y="675.31"/><use href="#m" x="638.72" y="675.55"/><use href="#m" x="641.12" y="675.78"/><use href="#m" x="643.52" y="676"/><use href="#m" x="645.92" y="676.22"/><use href="#m" x="648.32" y="676.44"/><use href="#m" x="650.71" y="676.64"/><use href="#m" x="653.11" y="676.85"/><use href="#m" x="655.51" y="677.04"/><use href="#m" x="657.91" y="677.23"/><use href="#m" x="660.31" y="677.43"/><use href="#m" x="662.71" y="677.62"/><use href="#m" x="665.11" y="677.81"/><use href="#m" x="667.51" y="677.99"/><use href="#m" x="669.91" y="678.18"/><use href="#m" x="672.31" y="678.36"/><use href="#m" x="674.71" y="678.53"/><use href="#m" x="677.11" y="678.7"/><use href="#m" x="679.51" y="678.87"/><use href="#m" x="681.91" y="679.03"/><use href="#m" x="684.31" y="679.18"/><use href="#m" x="686.71" y="679.33"/><use href="#m" x="689.11" y="679.47"/><use href="#m" x="691.51" y="679.6"/><use href="#m" x="693.91" y="679.73"/><use href="#m" x="696.31" y="679.84"/><use href="#m" x="698.71" y="679.95"/><use href="#m" x="701.11" y="680.04"/><use href="#m" x="703.5" y="680.14"/><use href="#m" x="705.9" y="680.24"/><use href="#m" x="708.3" y="680.33"/><use href="#m" x="710.7" y="680.43"/><use href="#m" x="713.1" y="680.52"/><use href="#m" x="715.5" y="680.62"/><use href="#m" x="717.9" y="680.71"/><use href="#m" x="720.3" y="680.79"/><use href="#m" x="722.7" y="680.87"/><use href="#m" x="725.1" y="680.95"/><use href="#m" x="727.5" y="681.02"/><use href="#m" x="729.9" y="681.08"/><use href="#m" x="732.3" y="681.14"/><use href="#m" x="734.7" y="681.19"/><use href="#m" x="737.1" y="681.23"/><use href="#m" x="739.5" y="681.26"/><use href="#m" x="741.9" y="681.29"/><use href="#m" x="744.3" y="681.3"/><use href="#m" x="746.7" y="681.3"/><use href="#m" x="749.1" y="681.29"/><use href="#m" x="751.5" y="681.28"/><use href="#m" x="753.89" y="681.27"/><use href="#m" x="756.29" y="681.24"/><use href="#m" x="758.69" y="681.21"/><use href="#m" x="761.09" y="681.18"/><use href="#m" x="763.49" y="681.15"/><use href="#m" x="765.89" y="681.1"/><use href="#m" x="768.29" y="681.06"/><use href="#m" x="770.69" y="681.01"/><use href="#m" x="773.09" y="680.96"/><use href="#m" x="775.49" y="680.91"/><use href="#m" x="777.89" y="680.85"/><use href="#m" x="780.29" y="680.8"/><use href="#m" x="782.69" y="680.74"/><use href="#m" x="785.09" y="680.68"/><use href="#m" x="787.49" y="680.62"/><use href="#m" x="789.89" y="680.56"/><use href="#m" x="792.29" y="680.49"/><use href="#m" x="794.69" y="680.43"/><use href="#m" x="797.09" y="680.37"/><use href="#m" x="799.49" y="680.31"/><use href="#m" x="801.89" y="680.25"/><use href="#m" x="804.29" y="680.18"/><use href="#m" x="806.68" y="680.1"/><use href="#m" x="809.08" y="680.02"/><use href="#m" x="811.48" y="679.93"/><use href="#m" x="813.88" y="679.84"/><use href="#m" x="816.28" y="679.74"/><use href="#m" x="818.68" y="679.64"/><use href="#m" x="821.08" y="679.54"/><use href="#m" x="823.48" y="679.44"/><use href="#m" x="825.88" y="679.33"/><use href="#m" x="828.28" y="679.23"/><use href="#m" x="830.68" y="679.13"/><use href="#m" x="833.08" y="679.03"/><use href="#m" x="835.48" y="678.94"/><use href="#m" x="837.88" y="678.85"/><use href="#m" x="840.28" y="678.76"/><use href="#m" x="842.68" y="678.69"/><use href="#m" x="845.08" y="678.61"/><use href="#m" x="847.48" y="678.55"/><use href="#m" x="849.88" y="678.5"/><use href="#m" x="852.28" y="678.45"/><use href="#m" x="854.68" y="678.4"/><use href="#m" x="857.07" y="678.35"/><use href="#m" x="859.47" y="678.31"/><use href="#m" x="861.87" y="678.27"/><use href="#m" x="864.27" y="678.23"/><use href="#m" x="866.67" y="678.19"/><use href="#m" x="869.07" y="678.15"/><use href="#m" x="871.47" y="678.11"/><use href="#m" x="873.87" y="678.07"/><use href="#m" x="876.27" y="678.04"/><use href="#m" x="878.67" y="678"/><use href="#m" x="881.07" y="677.97"/><use href="#m" x="883.47" y="677.94"/><use href="#m" x="885.87" y="677.91"/><use href="#m" x="888.27" y="677.87"/><use href="#m" x="890.67" y="677.84"/><use href="#m" x="893.07" y="677.81"/><use href="#m" x="895.47" y="677.79"/><use href="#m" x="897.87" y="677.76"/><use href="#m" x="900.27" y="677.73"/><use href="#m" x="902.67" y="677.7"/><use href="#m" x="905.07" y="677.67"/><use href="#m" x="907.46" y="677.64"/><use href="#m" x="909.86" y="677.62"/><use href="#m" x="912.26" y="677.59"/><use href="#m" x="914.66" y="677.56"/><use href="#m" x="917.06" y="677.53"/><use href="#m" x="919.46" y="677.51"/><use href="#m" x="921.86" y="677.48"/><use href="#m" x="924.26" y="677.45"/><use href="#m" x="926.66" y="677.42"/><use href="#m" x="929.06" y="677.39"/><use href="#m" x="931.46" y="677.36"/><use href="#m" x="933.86" y="677.32"/><use href="#m" x="936.26" y="677.29"/><use href="#m" x="938.66" y="677.26"/><use href="#m" x="941.06" y="677.23"/><use href="#m" x="943.46" y="677.2"/><use href="#m" x="945.86" y="677.16"/><use href="#m" x="948.26" y="677.13"/><use href="#m" x="950.66" y="677.1"/><use href="#m" x="953.06" y="677.07"/><use href="#m" x="955.46" y="677.04"/><use href="#m" x="957.86" y="677.01"/><use href="#m" x="960.25" y="676.99"/><use href="#m" x="962.65" y="676.96"/><use href="#m" x="965.05" y="676.94"/><use href="#m" x="967.45" y="676.91"/><use href="#m" x="969.85" y="676.89"/><use href="#m" x="972.25" y="676.87"/><use href="#m" x="974.65" y="676.86"/><use href="#m" x="977.05" y="676.84"/><use href="#m" x="979.45" y="676.83"/><use href="#m" x="981.85" y="676.82"/><use href="#m" x="984.25" y="676.81"/><use href="#m" x="986.65" y="676.8"/><use href="#m" x="989.05" y="676.8"/><use href="#m" x="991.45" y="676.8"/><use href="#m" x="993.85" y="676.8"/><use href="#m" x="996.25" y="676.81"/><use href="#m" x="998.65" y="676.81"/><use href="#m" x="1001.05" y="676.82"/><use href="#m" x="1003.45" y="676.83"/><use href="#m" x="1005.85" y="676.84"/><use href="#m" x="1008.25" y="676.85"/><use href="#m" x="1010.64" y="676.87"/><use href="#m" x="1013.04" y="676.88"/><use href="#m" x="1015.44" y="676.9"/><use href="#m" x="1017.84" y="676.92"/><use href="#m" x="1020.24" y="676.94"/><use href="#m" x="1022.64" y="676.96"/><use href="#m" x="1025.04" y="676.98"/><use href="#m" x="1027.44" y="677"/><use href="#m" x="1029.84" y="677.02"/><use href="#m" x="1032.24" y="677.05"/><use href="#m" x="1034.64" y="677.07"/><use href="#m" x="1037.04" y="677.1"/><use href="#m" x="1039.44" y="677.12"/><use href="#m" x="1041.84" y="677.15"/><use href="#m" x="1044.24" y="677.18"/><use href="#m" x="1046.64" y="677.2"/><use href="#m" x="1049.04" y="677.23"/><use href="#m" x="1051.44" y="677.26"/><use href="#m" x="1053.84" y="677.29"/><use href="#m" x="1056.24" y="677.31"/><use href="#m" x="1058.64" y="677.34"/><use href="#m" x="1061.04" y="677.37"/><use href="#m" x="1063.43" y="677.4"/><use href="#m" x="1065.83" y="677.42"/><use href="#m" x="1068.23" y="677.45"/><use href="#m" x="1070.63" y="677.48"/><use href="#m" x="1073.03" y="677.5"/><use href="#m" x="1075.43" y="677.53"/><use href="#m" x="1077.83" y="677.55"/><use href="#m" x="1080.23" y="677.58"/><use href="#m" x="1082.63" y="677.6"/><use href="#m" x="1085.03" y="677.62"/><use href="#m" x="1087.43" y="677.64"/><use href="#m" x="1089.83" y="677.66"/><use href="#m" x="1092.23" y="677.68"/><use href="#m" x="1094.63" y="677.7"/><use href="#m" x="1097.03" y="677.72"/><use href="#m" x="1099.43" y="677.73"/><use href="#m" x="1101.83" y="677.75"/><use href="#m" x="1104.23" y="677.76"/><use href="#m" x="1106.63" y="677.77"/><use href="#m" x="1109.03" y="677.78"/><use href="#m" x="1111.43" y="677.79"/><use href="#m" x="1113.82" y="677.79"/><use href="#m" x="1116.22" y="677.8"/><use href="#m" x="1118.62" y="677.8"/><use href="#m" x="1121.02" y="677.8"/><use href="#m" x="1123.42" y="677.8"/><use href="#m" x="1125.82" y="677.8"/><use href="#m" x="1128.22" y="677.8"/><use href="#m" x="1130.62" y="677.8"/><use href="#m" x="1133.02" y="677.8"/><use href="#m" x="1135.42" y="677.8"/><use href="#m" x="1137.82" y="677.8"/><use href="#m" x="1140.22" y="677.8"/><use href="#m" x="1142.62" y="677.8"/><use href="#m" x="1145.02" y="677.8"/><use href="#m" x="1147.42" y="677.8"/><use href="#m" x="1149.82" y="677.8"/><use href="#m" x="1152.22" y="677.8"/><use href="#m" x="1154.62" y="677.8"/><use href="#m" x="1157.02" y="677.8"/><use href="#m" x="1159.42" y="677.8"/><use href="#m" x="1161.82" y="677.8"/><use href="#m" x="1164.21" y="677.8"/><use href="#m" x="1166.61" y="677.8"/><use href="#m" x="1169.01" y="677.8"/><use href="#m" x="1171.41" y="677.8"/><use href="#m" x="1173.81" y="677.8"/><use href="#m" x="1176.21" y="677.8"/><use href="#m" x="1178.61" y="677.8"/><use href="#m" x="1181.01" y="677.8"/><use href="#m" x="1183.41" y="677.8"/><use href="#m" x="1185.81" y="677.8"/><use href="#m" x="1188.21" y="677.8"/><use href="#m" x="1190.61" y="677.8"/><use href="#m" x="1193.01" y="677.8"/><use href="#m" x="1195.41" y="677.8"/><use href="#m" x="1197.81" y="677.8"/><use href="#m" x="1200.21" y="677.8"/><use href="#m" x="1202.61" y="677.8"/><use href="#m" x="1205.01" y="677.8"/><use href="#m" x="1207.41" y="677.77"/><use href="#m" x="1209.81" y="677.7"/><use href="#m" x="1212.21" y="677.59"/><use href="#m" x="1214.61" y="677.47"/><use href="#m" x="1217" y="677.34"/><use href="#m" x="1219.4" y="677.21"/><use href="#m" x="1221.8" y="677.1"/><use href="#m" x="1224.2" y="677.02"/><use href="#m" x="1226.6" y="676.97"/><use href="#m" x="1229" y="676.93"/><use href="#m" x="1231.4" y="676.89"/><use href="#m" x="1233.8" y="676.85"/><use href="#m" x="1236.2" y="676.83"/><use href="#m" x="1238.6" y="676.81"/><use href="#m" x="1241" y="676.8"/><use href="#m" x="1243.5" y="690"/><use href="#m" x="1246.1" y="707.3"/><use href="#m" x="1248.9" y="726.8"/><use href="#m" x="1252.1" y="746.6"/><use href="#m" x="1254.4" y="764.5"/><use href="#m" x="1257.5" y="781"/><use href="#m" x="1259.3" y="787.5"/><use href="#m" x="1261.4" y="793.5"/><use href="#m" x="1263.6" y="798.8"/><use href="#m" x="1265.9" y="803.8"/><use href="#m" x="1268.2" y="808.8"/><use href="#m" x="1270.6" y="814.2"/><use href="#m" x="1273" y="819.5"/><use href="#m" x="1275.4" y="824.5"/><use href="#m" x="1277.8" y="829.2"/><use href="#m" x="1280.2" y="833.2"/><use href="#m" x="1282.7" y="836.7"/><use href="#m" x="1285.3" y="839.6"/><use href="#m" x="1288" y="841.5"/><use href="#m" x="1291.1" y="841.8"/><use href="#m" x="1293.5" y="840"/><use href="#m" x="1295.9" y="836"/><use href="#m" x="1298.3" y="828"/><use href="#m" x="1301" y="811.7"/><use href="#m" x="1303" y="780.9"/><use href="#m" x="1306" y="752.1"/><use href="#m" x="1309" y="727.1"/><use href="#m" x="1311.2" y="704.9"/><use href="#m" x="1313.5" y="688"/><use href="#m" x="1316" y="680.5"/><use href="#m" x="1318.4" y="678.3"/><use href="#m" x="1320.81" y="678.3"/><use href="#m" x="1323.21" y="678.31"/><use href="#m" x="1325.62" y="678.31"/><use href="#m" x="1328.02" y="678.32"/><use href="#m" x="1330.43" y="678.34"/><use href="#m" x="1332.84" y="678.35"/><use href="#m" x="1335.24" y="678.37"/><use href="#m" x="1337.65" y="678.39"/><use href="#m" x="1340.05" y="678.41"/><use href="#m" x="1342.46" y="678.43"/><use href="#m" x="1344.87" y="678.45"/><use href="#m" x="1347.27" y="678.47"/><use href="#m" x="1349.68" y="678.5"/><use href="#m" x="1352.08" y="678.53"/><use href="#m" x="1354.49" y="678.57"/><use href="#m" x="1356.9" y="678.62"/><use href="#m" x="1359.3" y="678.68"/><use href="#m" x="1361.71" y="678.75"/><use href="#m" x="1364.11" y="678.83"/><use href="#m" x="1366.52" y="678.91"/><use href="#m" x="1368.93" y="679"/><use href="#m" x="1371.33" y="679.09"/><use href="#m" x="1373.74" y="679.19"/><use href="#m" x="1376.14" y="679.28"/><use href="#m" x="1378.55" y="679.38"/><use href="#m" x="1380.96" y="679.47"/><use href="#m" x="1383.36" y="679.56"/><use href="#m" x="1385.77" y="679.65"/><use href="#m" x="1388.17" y="679.73"/><use href="#m" x="1390.58" y="679.8"/><use href="#m" x="1392.99" y="679.87"/><use href="#m" x="1395.39" y="679.92"/><use href="#m" x="1397.8" y="679.97"/><use href="#m" x="1400.2" y="680"/><use href="#m" x="1402.61" y="680.03"/><use href="#m" x="1405.01" y="680.06"/><use href="#m" x="1407.42" y="680.08"/><use href="#m" x="1409.83" y="680.11"/><use href="#m" x="1412.23" y="680.14"/><use href="#m" x="1414.64" y="680.16"/><use href="#m" x="1417.04" y="680.18"/><use href="#m" x="1419.45" y="680.2"/><use href="#m" x="1421.86" y="680.22"/><use href="#m" x="1424.26" y="680.24"/><use href="#m" x="1426.67" y="680.26"/><use href="#m" x="1429.07" y="680.27"/><use href="#m" x="1431.48" y="680.28"/><use href="#m" x="1433.89" y="680.29"/><use href="#m" x="1436.29" y="680.3"/><use href="#m" x="1438.7" y="680.3"/><use href="#m" x="1441.1" y="680.3"/><use href="#m" x="1443.51" y="680.3"/><use href="#m" x="1445.92" y="680.29"/><use href="#m" x="1448.32" y="680.29"/><use href="#m" x="1450.73" y="680.28"/><use href="#m" x="1453.13" y="680.27"/><use href="#m" x="1455.54" y="680.25"/><use href="#m" x="1457.95" y="680.24"/><use href="#m" x="1460.35" y="680.22"/><use href="#m" x="1462.76" y="680.2"/><use href="#m" x="1465.16" y="680.18"/><use href="#m" x="1467.57" y="680.15"/><use href="#m" x="1469.98" y="680.13"/><use href="#m" x="1472.38" y="680.1"/><use href="#m" x="1474.79" y="680.07"/><use href="#m" x="1477.19" y="680.04"/><use href="#m" x="1479.6" y="680"/></g>
<path class="b" stroke-dashoffset="0" d="M214 669.7L215.5 669.65L217 669.61L218.5 669.56L220 669.51L221.5 669.46L223 669.41L224.5 669.37L226 669.32L227.5 669.26L229 669.21L230.5 669.16L232 669.11L233.5 669.06L235 669L236.5 668.95L238 668.89L239.5 668.84L241 668.78L242.5 668.73L244 668.67L245.5 668.61L247 668.55L248.5 668.5L250 668.44L251.5 668.38L253 668.32L254.5 668.26L256 668.2L257.5 668.14L259 668.08L260.5 668.01L262 667.95L263.5 667.89L265 667.83L266.5 667.76L268 667.7L269.5 667.63L271 667.57L272.5 667.5L274 667.42L275.5 667.35L277 667.27L278.5 667.2L280 667.12L281.5 667.04L283 666.96L284.5 666.87L286 666.79L287.5 666.71L289 666.62L290.5 666.54L292 666.45L293.5 666.37L295 666.28L296.5 666.2L298 666.12L299.5 666.04L301 665.96L302.5 665.88L304 665.8L305.5 665.72L307 665.65L308.5 665.57L310 665.5L311.5 665.43L313 665.37L314.5 665.31L316 665.25L317.5 665.19L319 665.13L320.5 665.08L322 665.03L323.5 664.98L325 664.93L326.5 664.88L328 664.83L329.5 664.77L331 664.72L332.5 664.67L334 664.62L335.5 664.57L337 664.52L338.5 664.47L340 664.42"/>
<path class="b" stroke-dashoffset="10.93" d="M464.5 704L463 702.26L461.5 700.55L460 698.88L458.5 697.25L457 695.65L455.5 694.1L454 692.57L452.5 691.08L451 689.63L449.5 688.21L448 686.81L446.5 685.42L445 684.07L443.5 682.79L442 681.6L440.5 680.53L439 679.56L437.5 678.65L436 677.79L434.5 676.98L433 676.19L431.5 675.44L430 674.69L428.5 673.95L427 673.19L425.5 672.42L424 671.66L422.5 670.93L421 670.23L419.5 669.59L418 669.02L416.5 668.54L415 668.14L413.5 667.76L412 667.4L410.5 667.06L409 666.75L407.5 666.45L406 666.17L404.5 665.92L403 665.69L401.5 665.49L400 665.31L398.5 665.16L397 665.04L395.5 664.92L394 664.8L392.5 664.69L391 664.58L389.5 664.48L388 664.38L386.5 664.28L385 664.2L383.5 664.12L382 664.05L380.5 663.98L379 663.93L377.5 663.88L376 663.84L374.5 663.82L373 663.8L371.5 663.8L370 663.8L368.5 663.81L367 663.82L365.5 663.83L364 663.85L362.5 663.86L361 663.89L359.5 663.91L358 663.94L356.5 663.97L355 664L353.5 664.03L352 664.07L350.5 664.11L349 664.15L347.5 664.19L346 664.23L344.5 664.28L343 664.32L341.5 664.37L340 664.42"/>
<path class="b" stroke-dashoffset="7.1" d="M464.5 704L466 702.56L467.5 701.06L469 699.51L470.5 697.9L472 696.25L473.5 694.56L475 692.82L476.5 691.02L478 689.04L479.5 686.96L481 684.91L482.5 683.02L484 681.38L485.5 679.89L487 678.48L488.5 677.15L490 675.9L491.5 674.7L493 673.56L494.5 672.47L496 671.4L497.5 670.37L499 669.38L500.5 668.45L502 667.58L503.5 666.79L505 666.07L506.5 665.39L508 664.73L509.5 664.12L511 663.56L512.5 663.07L514 662.66L515.5 662.33L517 662.04L518.5 661.78L520 661.55L521.5 661.33L523 661.13L524.5 660.95L526 660.78L527.5 660.62L529 660.47L530.5 660.32L532 660.17L533.5 660.03L535 659.89L536.5 659.76L538 659.63L539.5 659.51L541 659.4L542.5 659.28L544 659.18L545.5 659.07L547 658.98L548.5 658.88L550 658.79L551.5 658.71L553 658.63L554.5 658.56L556 658.48L557.5 658.41L559 658.34L560.5 658.27L562 658.2L563.5 658.13L565 658.07L566.5 658L568 657.94L569.5 657.88L571 657.82L572.5 657.77L574 657.71L575.5 657.66L577 657.61L578.5 657.57L580 657.52L581.5 657.48L583 657.44L584.5 657.41L586 657.37L587.5 657.34L589 657.32L590.5 657.29L592 657.27L593.5 657.25L595 657.23L596.5 657.21L598 657.19L599.5 657.17L601 657.15L602.5 657.14L604 657.12L605.5 657.11L607 657.09L608.5 657.08L610 657.06L611.5 657.05L613 657.04L614.5 657.02L616 657.01L617.5 657L619 656.99L620.5 656.98L622 656.97L623.5 656.95L625 656.94L626.5 656.93L628 656.92L629.5 656.91L631 656.9L632.5 656.88L634 656.87L635.5 656.86L637 656.85L638.5 656.83L640 656.82L641.5 656.8L643 656.79L644.5 656.77L646 656.76L647.5 656.74L649 656.72L650.5 656.71L652 656.69L653.5 656.67L655 656.65L656.5 656.63L658 656.61L659.5 656.59L661 656.57L662.5 656.55L664 656.53L665.5 656.51L667 656.49L668.5 656.47L670 656.45L671.5 656.43L673 656.41L674.5 656.39L676 656.37L677.5 656.35L679 656.33L680.5 656.31L682 656.29L683.5 656.27L685 656.25L686.5 656.23L688 656.22L689.5 656.2L691 656.18L692.5 656.17L694 656.15L695.5 656.13L697 656.12L698.5 656.11L700 656.09L701.5 656.08L703 656.07L704.5 656.06L706 656.05L707.5 656.04L709 656.03L710.5 656.02L712 656.02L713.5 656.01L715 656.01L716.5 656L718 656L719.5 656L721 656L722.5 656L724 656L725.5 656L727 656L728.5 656L730 656L731.5 656L733 656L734.5 656L736 656L737.5 656L739 656L740.5 656L742 656L743.5 656L745 656L746.5 656L748 656L749.5 656L751 656L752.5 656L754 656L755.5 656L757 656L758.5 656L760 656L761.5 656L763 656L764.5 656L766 656L767.5 656L769 656L770.5 656L772 656L773.5 656L775 656L776.5 656L778 656L779.5 656L781 656L782.5 656L784 656L785.5 656L787 656L788.5 656L790 656L791.5 656L793 656L794.5 656L796 656L797.5 656L799 656L800.5 656L802 656L803.5 656L805 656L806.5 656L808 656L809.5 656L811 656L812.5 656L814 656L815.5 656L817 656L818.5 656L820 656L821.5 656L823 656L824.5 656L826 656L827.5 656L829 656L830.5 656L832 656L833.5 656L835 656L836.5 656L838 656L839.5 656L841 656L842.5 656L844 656L845.5 656L847 656L848.5 656L850 656L851.5 656L853 656L854.5 656L856 656L857.5 656L859 656L860.5 656L862 656L863.5 656L865 656L866.5 656L868 656L869.5 656L871 656L872.5 656L874 656L875.5 656L877 656"/>
<path class="b" stroke-dashoffset="9.43" d="M1288.6 810L1288 809.77L1286.5 808.48L1285 806.44L1283.5 803.96L1282 800.05L1280.5 795.32L1279 790.78L1277.5 786.08L1276 781.29L1274.5 776.35L1273 771.6L1271.5 767.36L1270 763.29L1268.5 758.84L1267 753.89L1265.5 749.1L1264 744.72L1262.5 740.56L1261 736.54L1259.5 732.66L1258 728.94L1256.5 725.38L1255 721.94L1253.5 718.66L1252 715.58L1250.5 712.6L1249 709.78L1247.5 707.22L1246 704.93L1244.5 702.83L1243 700.86L1241.5 698.98L1240 697.13L1238.5 695.28L1237 693.47L1235.5 691.73L1234 690.12L1232.5 688.7L1231 687.45L1229.5 686.32L1228 685.26L1226.5 684.27L1225 683.29L1223.5 682.31L1222 681.29L1220.5 680.22L1219 679.12L1217.5 678.04L1216 677.02L1214.5 676.09L1213 675.3L1211.5 674.57L1210 673.88L1208.5 673.21L1207 672.58L1205.5 671.97L1204 671.38L1202.5 670.83L1201 670.29L1199.5 669.78L1198 669.3L1196.5 668.83L1195 668.38L1193.5 667.95L1192 667.54L1190.5 667.13L1189 666.74L1187.5 666.36L1186 665.99L1184.5 665.64L1183 665.29L1181.5 664.96L1180 664.65L1178.5 664.35L1177 664.06L1175.5 663.79L1174 663.54L1172.5 663.3L1171 663.08L1169.5 662.88L1168 662.67L1166.5 662.48L1165 662.3L1163.5 662.12L1162 661.95L1160.5 661.78L1159 661.62L1157.5 661.47L1156 661.32L1154.5 661.17L1153 661.03L1151.5 660.9L1150 660.76L1148.5 660.63L1147 660.5L1145.5 660.37L1144 660.25L1142.5 660.13L1141 660L1139.5 659.88L1138 659.77L1136.5 659.65L1135 659.54L1133.5 659.43L1132 659.32L1130.5 659.22L1129 659.12L1127.5 659.02L1126 658.93L1124.5 658.84L1123 658.76L1121.5 658.68L1120 658.6L1118.5 658.53L1117 658.46L1115.5 658.39L1114 658.32L1112.5 658.25L1111 658.19L1109.5 658.12L1108 658.06L1106.5 657.99L1105 657.93L1103.5 657.86L1102 657.8L1100.5 657.74L1099 657.69L1097.5 657.63L1096 657.57L1094.5 657.52L1093 657.46L1091.5 657.41L1090 657.36L1088.5 657.31L1087 657.26L1085.5 657.22L1084 657.17L1082.5 657.13L1081 657.09L1079.5 657.05L1078 657.01L1076.5 656.97L1075 656.94L1073.5 656.91L1072 656.87L1070.5 656.85L1069 656.82L1067.5 656.79L1066 656.77L1064.5 656.74L1063 656.72L1061.5 656.7L1060 656.67L1058.5 656.65L1057 656.62L1055.5 656.6L1054 656.58L1052.5 656.56L1051 656.53L1049.5 656.51L1048 656.49L1046.5 656.47L1045 656.45L1043.5 656.42L1042 656.4L1040.5 656.38L1039 656.36L1037.5 656.34L1036 656.32L1034.5 656.31L1033 656.29L1031.5 656.27L1030 656.25L1028.5 656.23L1027 656.22L1025.5 656.2L1024 656.19L1022.5 656.17L1021 656.16L1019.5 656.14L1018 656.13L1016.5 656.12L1015 656.1L1013.5 656.09L1012 656.08L1010.5 656.07L1009 656.06L1007.5 656.05L1006 656.04L1004.5 656.04L1003 656.03L1001.5 656.02L1000 656.02L998.5 656.01L997 656.01L995.5 656.01L994 656L992.5 656L991 656L989.5 656L988 656L986.5 656L985 656L983.5 656L982 656L980.5 656L979 656L977.5 656L976 656L974.5 656L973 656L971.5 656L970 656L968.5 656L967 656L965.5 656L964 656L962.5 656L961 656L959.5 656L958 656L956.5 656L955 656L953.5 656L952 656L950.5 656L949 656L947.5 656L946 656L944.5 656L943 656L941.5 656L940 656L938.5 656L937 656L935.5 656L934 656L932.5 656L931 656L929.5 656L928 656L926.5 656L925 656L923.5 656L922 656L920.5 656L919 656L917.5 656L916 656L914.5 656L913 656L911.5 656L910 656L908.5 656L907 656L905.5 656L904 656L902.5 656L901 656L899.5 656L898 656L896.5 656L895 656L893.5 656L892 656L890.5 656L889 656L887.5 656L886 656L884.5 656L883 656L881.5 656L880 656L878.5 656L877 656"/>
<path class="b" stroke-dashoffset="9.4" d="M1288.6 810L1290.1 809.39L1291.6 808.06L1293.1 806.32L1294.6 803.82L1296.1 800.19L1297.6 796.11L1299.1 791.79L1300.6 786.95L1302.1 782.2L1303.6 777.46L1305.1 772.92L1306.6 768.75L1308.1 764.64L1309.6 760.13L1311.1 755.24L1312.6 750.32L1314.1 745.32L1315.6 740.58L1317.1 736.49L1318.6 732.76L1320.1 729.1L1321.6 725.3L1323.1 721.56L1324.6 718.18L1326.1 715.19L1327.6 712.43L1329.1 709.79L1330.6 707.19L1332.1 704.62L1333.6 702.14L1335.1 699.78L1336.6 697.58L1338.1 695.41L1339.6 693.31L1341.1 691.4L1342.6 689.76L1344.1 688.43L1345.6 687.23L1347.1 686.12L1348.6 685.08L1350.1 684.11L1351.6 683.2L1353.1 682.35L1354.6 681.53L1356.1 680.75L1357.6 679.99L1359.1 679.24L1360.6 678.5L1362.1 677.75L1363.6 677.02L1365.1 676.3L1366.6 675.59L1368.1 674.9L1369.6 674.23L1371.1 673.57L1372.6 672.92L1374.1 672.3L1375.6 671.69L1377.1 671.1L1378.6 670.53L1380.1 669.98L1381.6 669.45L1383.1 668.95L1384.6 668.46"/>
<path class="b" stroke-dashoffset="9.53" d="M1480 656.5L1479.1 656.5L1477.6 656.51L1476.1 656.53L1474.6 656.56L1473.1 656.59L1471.6 656.63L1470.1 656.67L1468.6 656.72L1467.1 656.77L1465.6 656.83L1464.1 656.89L1462.6 656.95L1461.1 657.01L1459.6 657.08L1458.1 657.15L1456.6 657.22L1455.1 657.29L1453.6 657.37L1452.1 657.45L1450.6 657.55L1449.1 657.66L1447.6 657.78L1446.1 657.91L1444.6 658.04L1443.1 658.18L1441.6 658.33L1440.1 658.48L1438.6 658.64L1437.1 658.8L1435.6 658.96L1434.1 659.12L1432.6 659.28L1431.1 659.44L1429.6 659.61L1428.1 659.77L1426.6 659.94L1425.1 660.11L1423.6 660.29L1422.1 660.47L1420.6 660.66L1419.1 660.85L1417.6 661.05L1416.1 661.26L1414.6 661.48L1413.1 661.7L1411.6 661.93L1410.1 662.18L1408.6 662.43L1407.1 662.7L1405.6 662.98L1404.1 663.28L1402.6 663.6L1401.1 663.93L1399.6 664.28L1398.1 664.64L1396.6 665.02L1395.1 665.41L1393.6 665.81L1392.1 666.22L1390.6 666.65L1389.1 667.09L1387.6 667.54L1386.1 668L1384.6 668.46"/>
<rect x="246" y="794.2" width="835.3" height="160.8" fill="#fff" stroke="#4d4d4f" stroke-width="1.8"/>
<use href="#m" class="r" x="316" y="836.9"/>
<path class="b" d="M257 912.5H369.4"/>
<text class="g" x="383.2" y="858.4">z-polarization, experimental</text>
<text class="g" x="383.2" y="933.4">z-polarization, theoretical</text>
<text class="p" x="1353.3" y="942.6">(b)</text>
<text class="t" transform="translate(464.2 1062.1) scale(1 1.04)" text-anchor="middle">0.6</text>
<text class="t" transform="translate(718.2 1062.1) scale(1 1.04)" text-anchor="middle">0.8</text>
<text class="t" transform="translate(974.2 1062.1) scale(1 1.04)" text-anchor="middle">1</text>
<text class="t" transform="translate(1227.2 1062.1) scale(1 1.04)" text-anchor="middle">1.2</text>
<text class="t" transform="translate(1481.2 1062.1) scale(1 1.04)" text-anchor="middle">1.4</text>
<text class="t" transform="translate(192 1003.2) scale(1 1.04)" text-anchor="end">0</text>
<text class="t" transform="translate(192 838.2) scale(1 1.04)" text-anchor="end">0.5</text>
<text class="t" transform="translate(194.5 673.2) scale(1 1.04)" text-anchor="end">1</text>
<text class="l" x="847" y="1149.9" text-anchor="middle">Wavelength (µm)</text>
<text class="l" transform="translate(76.9 813.7) rotate(-90)" text-anchor="middle">Transmission</text></g>
<g><path class="gr" d="M465 1298V1631M719 1298V1631M973 1298V1631M1226 1298V1631M214 1464.5H1480"/>
<path class="a" d="M214 1298H1480V1631H214ZM465 1631v-13M465 1298v13M719 1631v-13M719 1298v13M973 1631v-13M973 1298v13M1226 1631v-13M1226 1298v13M214 1464.5h13M1480 1464.5h-13"/>
<g class="r"><use href="#m" x="214" y="1312"/><use href="#m" x="216.4" y="1312"/><use href="#m" x="218.81" y="1312"/><use href="#m" x="221.21" y="1312"/><use href="#m" x="223.62" y="1312"/><use href="#m" x="226.02" y="1312"/><use href="#m" x="228.43" y="1312"/><use href="#m" x="230.83" y="1312"/><use href="#m" x="233.24" y="1312"/><use href="#m" x="235.64" y="1312"/><use href="#m" x="238.05" y="1312"/><use href="#m" x="240.45" y="1312"/><use href="#m" x="242.86" y="1312"/><use href="#m" x="245.26" y="1312"/><use href="#m" x="247.67" y="1312"/><use href="#m" x="250.07" y="1312"/><use href="#m" x="252.47" y="1312"/><use href="#m" x="254.88" y="1312"/><use href="#m" x="257.28" y="1312"/><use href="#m" x="259.69" y="1312"/><use href="#m" x="262.09" y="1312"/><use href="#m" x="264.5" y="1312"/><use href="#m" x="266.9" y="1312"/><use href="#m" x="269.31" y="1312"/><use href="#m" x="271.71" y="1312"/><use href="#m" x="274.12" y="1312"/><use href="#m" x="276.52" y="1312"/><use href="#m" x="278.93" y="1312"/><use href="#m" x="281.33" y="1312"/><use href="#m" x="283.73" y="1312"/><use href="#m" x="286.14" y="1312"/><use href="#m" x="288.54" y="1312"/><use href="#m" x="290.95" y="1312"/><use href="#m" x="293.35" y="1312"/><use href="#m" x="295.76" y="1312"/><use href="#m" x="298.16" y="1312"/><use href="#m" x="300.57" y="1312"/><use href="#m" x="302.97" y="1312"/><use href="#m" x="305.38" y="1312"/><use href="#m" x="307.78" y="1312"/><use href="#m" x="310.19" y="1312"/><use href="#m" x="312.59" y="1312"/><use href="#m" x="315" y="1312"/><use href="#m" x="317.4" y="1312"/><use href="#m" x="319.8" y="1312"/><use href="#m" x="322.21" y="1312"/><use href="#m" x="324.61" y="1312"/><use href="#m" x="327.02" y="1312"/><use href="#m" x="329.42" y="1312"/><use href="#m" x="331.83" y="1312"/><use href="#m" x="334.23" y="1312"/><use href="#m" x="336.64" y="1312"/><use href="#m" x="339.04" y="1312"/><use href="#m" x="341.45" y="1312"/><use href="#m" x="343.85" y="1312"/><use href="#m" x="346.26" y="1312"/><use href="#m" x="348.66" y="1312"/><use href="#m" x="351.07" y="1312"/><use href="#m" x="353.47" y="1312"/><use href="#m" x="355.87" y="1312"/><use href="#m" x="358.28" y="1312"/><use href="#m" x="360.68" y="1312"/><use href="#m" x="363.09" y="1312"/><use href="#m" x="365.49" y="1312"/><use href="#m" x="367.9" y="1312"/><use href="#m" x="370.3" y="1312"/><use href="#m" x="372.71" y="1312"/><use href="#m" x="375.11" y="1312"/><use href="#m" x="377.52" y="1312"/><use href="#m" x="379.92" y="1312"/><use href="#m" x="382.33" y="1312"/><use href="#m" x="384.73" y="1312"/><use href="#m" x="387.13" y="1312"/><use href="#m" x="389.54" y="1312"/><use href="#m" x="391.94" y="1312"/><use href="#m" x="394.35" y="1312"/><use href="#m" x="396.75" y="1312"/><use href="#m" x="399.16" y="1312"/><use href="#m" x="401.56" y="1312"/><use href="#m" x="403.97" y="1312.02"/><use href="#m" x="406.37" y="1312.04"/><use href="#m" x="408.78" y="1312.08"/><use href="#m" x="411.18" y="1312.12"/><use href="#m" x="413.59" y="1312.16"/><use href="#m" x="415.99" y="1312.21"/><use href="#m" x="418.4" y="1312.26"/><use href="#m" x="420.8" y="1312.3"/><use href="#m" x="422.6" y="1318"/><use href="#m" x="424.6" y="1328"/><use href="#m" x="426.6" y="1339"/><use href="#m" x="428.8" y="1350.5"/><use href="#m" x="431" y="1361.5"/><use href="#m" x="433.4" y="1371.5"/><use href="#m" x="436" y="1379.5"/><use href="#m" x="439" y="1384.5"/><use href="#m" x="441.4" y="1386"/><use href="#m" x="443.8" y="1388"/><use href="#m" x="446.2" y="1390.8"/><use href="#m" x="448.6" y="1395"/><use href="#m" x="451" y="1400.3"/><use href="#m" x="453.4" y="1405"/><use href="#m" x="455.8" y="1409.3"/><use href="#m" x="458.2" y="1413"/><use href="#m" x="460.6" y="1416"/><use href="#m" x="463" y="1418"/><use href="#m" x="465.4" y="1419"/><use href="#m" x="467.8" y="1419.5"/><use href="#m" x="470.2" y="1419.3"/><use href="#m" x="472.6" y="1418"/><use href="#m" x="475" y="1414.5"/><use href="#m" x="477.6" y="1408"/><use href="#m" x="480.9" y="1394.5"/><use href="#m" x="483.2" y="1375.5"/><use href="#m" x="485.9" y="1357.7"/><use href="#m" x="489.1" y="1339.5"/><use href="#m" x="491.4" y="1324.5"/><use href="#m" x="494.1" y="1308.5"/><use href="#m" x="496.5" y="1307.5"/><use href="#m" x="498.9" y="1307.5"/><use href="#m" x="501.3" y="1307.5"/><use href="#m" x="503.69" y="1307.5"/><use href="#m" x="506.09" y="1307.5"/><use href="#m" x="508.49" y="1307.5"/><use href="#m" x="510.89" y="1307.5"/><use href="#m" x="513.28" y="1307.5"/><use href="#m" x="515.68" y="1307.5"/><use href="#m" x="518.08" y="1307.5"/><use href="#m" x="520.48" y="1307.5"/><use href="#m" x="522.88" y="1307.52"/><use href="#m" x="525.27" y="1307.55"/><use href="#m" x="527.67" y="1307.6"/><use href="#m" x="530.07" y="1307.67"/><use href="#m" x="532.47" y="1307.76"/><use href="#m" x="534.86" y="1307.85"/><use href="#m" x="537.26" y="1307.96"/><use href="#m" x="539.66" y="1308.07"/><use href="#m" x="542.06" y="1308.18"/><use href="#m" x="544.46" y="1308.3"/><use href="#m" x="546.85" y="1308.42"/><use href="#m" x="549.25" y="1308.54"/><use href="#m" x="551.65" y="1308.66"/><use href="#m" x="554.05" y="1308.77"/><use href="#m" x="556.45" y="1308.87"/><use href="#m" x="558.84" y="1308.96"/><use href="#m" x="561.24" y="1309.04"/><use href="#m" x="563.64" y="1309.13"/><use href="#m" x="566.04" y="1309.22"/><use href="#m" x="568.43" y="1309.32"/><use href="#m" x="570.83" y="1309.41"/><use href="#m" x="573.23" y="1309.51"/><use href="#m" x="575.63" y="1309.6"/><use href="#m" x="578.03" y="1309.68"/><use href="#m" x="580.42" y="1309.75"/><use href="#m" x="582.82" y="1309.81"/><use href="#m" x="585.22" y="1309.86"/><use href="#m" x="587.62" y="1309.89"/><use href="#m" x="590.01" y="1309.9"/><use href="#m" x="592.41" y="1309.9"/><use href="#m" x="594.81" y="1309.89"/><use href="#m" x="597.21" y="1309.89"/><use href="#m" x="599.61" y="1309.88"/><use href="#m" x="602" y="1309.87"/><use href="#m" x="604.4" y="1309.86"/><use href="#m" x="606.8" y="1309.84"/><use href="#m" x="609.2" y="1309.82"/><use href="#m" x="611.59" y="1309.8"/><use href="#m" x="613.99" y="1309.78"/><use href="#m" x="616.39" y="1309.76"/><use href="#m" x="618.79" y="1309.74"/><use href="#m" x="621.19" y="1309.71"/><use href="#m" x="623.58" y="1309.68"/><use href="#m" x="625.98" y="1309.66"/><use href="#m" x="628.38" y="1309.63"/><use href="#m" x="630.78" y="1309.6"/><use href="#m" x="633.17" y="1309.57"/><use href="#m" x="635.57" y="1309.53"/><use href="#m" x="637.97" y="1309.5"/><use href="#m" x="640.37" y="1309.47"/><use href="#m" x="642.77" y="1309.43"/><use href="#m" x="645.16" y="1309.4"/><use href="#m" x="647.56" y="1309.36"/><use href="#m" x="649.96" y="1309.33"/><use href="#m" x="652.36" y="1309.29"/><use href="#m" x="654.76" y="1309.25"/><use href="#m" x="657.15" y="1309.22"/><use href="#m" x="659.55" y="1309.18"/><use href="#m" x="661.95" y="1309.15"/><use href="#m" x="664.35" y="1309.11"/><use href="#m" x="666.74" y="1309.08"/><use href="#m" x="669.14" y="1309.04"/><use href="#m" x="671.54" y="1309.01"/><use href="#m" x="673.94" y="1308.97"/><use href="#m" x="676.34" y="1308.94"/><use href="#m" x="678.73" y="1308.91"/><use href="#m" x="681.13" y="1308.88"/><use href="#m" x="683.53" y="1308.85"/><use href="#m" x="685.93" y="1308.82"/><use href="#m" x="688.32" y="1308.79"/><use href="#m" x="690.72" y="1308.77"/><use href="#m" x="693.12" y="1308.74"/><use href="#m" x="695.52" y="1308.72"/><use href="#m" x="697.92" y="1308.7"/><use href="#m" x="700.31" y="1308.68"/><use href="#m" x="702.71" y="1308.66"/><use href="#m" x="705.11" y="1308.65"/><use href="#m" x="707.51" y="1308.63"/><use href="#m" x="709.9" y="1308.62"/><use href="#m" x="712.3" y="1308.61"/><use href="#m" x="714.7" y="1308.61"/><use href="#m" x="717.1" y="1308.6"/><use href="#m" x="719.5" y="1308.6"/><use href="#m" x="721.89" y="1308.6"/><use href="#m" x="724.29" y="1308.6"/><use href="#m" x="726.69" y="1308.6"/><use href="#m" x="729.09" y="1308.6"/><use href="#m" x="731.48" y="1308.6"/><use href="#m" x="733.88" y="1308.6"/><use href="#m" x="736.28" y="1308.61"/><use href="#m" x="738.68" y="1308.61"/><use href="#m" x="741.08" y="1308.61"/><use href="#m" x="743.47" y="1308.61"/><use href="#m" x="745.87" y="1308.62"/><use href="#m" x="748.27" y="1308.62"/><use href="#m" x="750.67" y="1308.62"/><use href="#m" x="753.07" y="1308.63"/><use href="#m" x="755.46" y="1308.63"/><use href="#m" x="757.86" y="1308.63"/><use href="#m" x="760.26" y="1308.64"/><use href="#m" x="762.66" y="1308.64"/><use href="#m" x="765.05" y="1308.65"/><use href="#m" x="767.45" y="1308.65"/><use href="#m" x="769.85" y="1308.65"/><use href="#m" x="772.25" y="1308.66"/><use href="#m" x="774.65" y="1308.66"/><use href="#m" x="777.04" y="1308.67"/><use href="#m" x="779.44" y="1308.68"/><use href="#m" x="781.84" y="1308.68"/><use href="#m" x="784.24" y="1308.69"/><use href="#m" x="786.63" y="1308.69"/><use href="#m" x="789.03" y="1308.7"/><use href="#m" x="791.43" y="1308.71"/><use href="#m" x="793.83" y="1308.71"/><use href="#m" x="796.23" y="1308.72"/><use href="#m" x="798.62" y="1308.73"/><use href="#m" x="801.02" y="1308.73"/><use href="#m" x="803.42" y="1308.74"/><use href="#m" x="805.82" y="1308.75"/><use href="#m" x="808.21" y="1308.76"/><use href="#m" x="810.61" y="1308.76"/><use href="#m" x="813.01" y="1308.77"/><use href="#m" x="815.41" y="1308.78"/><use href="#m" x="817.81" y="1308.79"/><use href="#m" x="820.2" y="1308.79"/><use href="#m" x="822.6" y="1308.8"/><use href="#m" x="825" y="1308.81"/><use href="#m" x="827.4" y="1308.82"/><use href="#m" x="829.79" y="1308.83"/><use href="#m" x="832.19" y="1308.84"/><use href="#m" x="834.59" y="1308.84"/><use href="#m" x="836.99" y="1308.85"/><use href="#m" x="839.39" y="1308.86"/><use href="#m" x="841.78" y="1308.87"/><use href="#m" x="844.18" y="1308.88"/><use href="#m" x="846.58" y="1308.89"/><use href="#m" x="848.98" y="1308.9"/><use href="#m" x="851.38" y="1308.91"/><use href="#m" x="853.77" y="1308.92"/><use href="#m" x="856.17" y="1308.93"/><use href="#m" x="858.57" y="1308.94"/><use href="#m" x="860.97" y="1308.95"/><use href="#m" x="863.36" y="1308.97"/><use href="#m" x="865.76" y="1308.98"/><use href="#m" x="868.16" y="1309"/><use href="#m" x="870.56" y="1309.02"/><use href="#m" x="872.96" y="1309.03"/><use href="#m" x="875.35" y="1309.05"/><use href="#m" x="877.75" y="1309.07"/><use href="#m" x="880.15" y="1309.09"/><use href="#m" x="882.55" y="1309.12"/><use href="#m" x="884.94" y="1309.14"/><use href="#m" x="887.34" y="1309.16"/><use href="#m" x="889.74" y="1309.18"/><use href="#m" x="892.14" y="1309.21"/><use href="#m" x="894.54" y="1309.23"/><use href="#m" x="896.93" y="1309.26"/><use href="#m" x="899.33" y="1309.28"/><use href="#m" x="901.73" y="1309.31"/><use href="#m" x="904.13" y="1309.34"/><use href="#m" x="906.52" y="1309.36"/><use href="#m" x="908.92" y="1309.39"/><use href="#m" x="911.32" y="1309.42"/><use href="#m" x="913.72" y="1309.45"/><use href="#m" x="916.12" y="1309.48"/><use href="#m" x="918.51" y="1309.5"/><use href="#m" x="920.91" y="1309.53"/><use href="#m" x="923.31" y="1309.56"/><use href="#m" x="925.71" y="1309.59"/><use href="#m" x="928.1" y="1309.62"/><use href="#m" x="930.5" y="1309.65"/><use href="#m" x="932.9" y="1309.68"/><use href="#m" x="935.3" y="1309.71"/><use href="#m" x="937.7" y="1309.74"/><use href="#m" x="940.09" y="1309.77"/><use href="#m" x="942.49" y="1309.8"/><use href="#m" x="944.89" y="1309.83"/><use href="#m" x="947.29" y="1309.85"/><use href="#m" x="949.69" y="1309.88"/><use href="#m" x="952.08" y="1309.91"/><use href="#m" x="954.48" y="1309.94"/><use href="#m" x="956.88" y="1309.97"/><use href="#m" x="959.28" y="1309.99"/><use href="#m" x="961.67" y="1310.02"/><use href="#m" x="964.07" y="1310.05"/><use href="#m" x="966.47" y="1310.07"/><use href="#m" x="968.87" y="1310.1"/><use href="#m" x="971.27" y="1310.12"/><use href="#m" x="973.66" y="1310.15"/><use href="#m" x="976.06" y="1310.17"/><use href="#m" x="978.46" y="1310.2"/><use href="#m" x="980.86" y="1310.22"/><use href="#m" x="983.25" y="1310.24"/><use href="#m" x="985.65" y="1310.26"/><use href="#m" x="988.05" y="1310.28"/><use href="#m" x="990.45" y="1310.3"/><use href="#m" x="992.85" y="1310.32"/><use href="#m" x="995.24" y="1310.34"/><use href="#m" x="997.64" y="1310.36"/><use href="#m" x="1000.04" y="1310.38"/><use href="#m" x="1002.44" y="1310.4"/><use href="#m" x="1004.83" y="1310.42"/><use href="#m" x="1007.23" y="1310.44"/><use href="#m" x="1009.63" y="1310.46"/><use href="#m" x="1012.03" y="1310.48"/><use href="#m" x="1014.43" y="1310.5"/><use href="#m" x="1016.82" y="1310.51"/><use href="#m" x="1019.22" y="1310.53"/><use href="#m" x="1021.62" y="1310.55"/><use href="#m" x="1024.02" y="1310.57"/><use href="#m" x="1026.41" y="1310.59"/><use href="#m" x="1028.81" y="1310.61"/><use href="#m" x="1031.21" y="1310.62"/><use href="#m" x="1033.61" y="1310.64"/><use href="#m" x="1036.01" y="1310.66"/><use href="#m" x="1038.4" y="1310.68"/><use href="#m" x="1040.8" y="1310.7"/><use href="#m" x="1043.2" y="1310.71"/><use href="#m" x="1045.6" y="1310.73"/><use href="#m" x="1048" y="1310.75"/><use href="#m" x="1050.39" y="1310.77"/><use href="#m" x="1052.79" y="1310.78"/><use href="#m" x="1055.19" y="1310.8"/><use href="#m" x="1057.59" y="1310.82"/><use href="#m" x="1059.98" y="1310.83"/><use href="#m" x="1062.38" y="1310.85"/><use href="#m" x="1064.78" y="1310.87"/><use href="#m" x="1067.18" y="1310.88"/><use href="#m" x="1069.58" y="1310.9"/><use href="#m" x="1071.97" y="1310.91"/><use href="#m" x="1074.37" y="1310.93"/><use href="#m" x="1076.77" y="1310.95"/><use href="#m" x="1079.17" y="1310.96"/><use href="#m" x="1081.56" y="1310.98"/><use href="#m" x="1083.96" y="1310.99"/><use href="#m" x="1086.36" y="1311.01"/><use href="#m" x="1088.76" y="1311.02"/><use href="#m" x="1091.16" y="1311.04"/><use href="#m" x="1093.55" y="1311.05"/><use href="#m" x="1095.95" y="1311.07"/><use href="#m" x="1098.35" y="1311.08"/><use href="#m" x="1100.75" y="1311.09"/><use href="#m" x="1103.14" y="1311.11"/><use href="#m" x="1105.54" y="1311.12"/><use href="#m" x="1107.94" y="1311.14"/><use href="#m" x="1110.34" y="1311.15"/><use href="#m" x="1112.74" y="1311.16"/><use href="#m" x="1115.13" y="1311.17"/><use href="#m" x="1117.53" y="1311.19"/><use href="#m" x="1119.93" y="1311.2"/><use href="#m" x="1122.33" y="1311.21"/><use href="#m" x="1124.72" y="1311.22"/><use href="#m" x="1127.12" y="1311.23"/><use href="#m" x="1129.52" y="1311.24"/><use href="#m" x="1131.92" y="1311.25"/><use href="#m" x="1134.32" y="1311.26"/><use href="#m" x="1136.71" y="1311.26"/><use href="#m" x="1139.11" y="1311.27"/><use href="#m" x="1141.51" y="1311.28"/><use href="#m" x="1143.91" y="1311.28"/><use href="#m" x="1146.31" y="1311.29"/><use href="#m" x="1148.7" y="1311.29"/><use href="#m" x="1151.1" y="1311.3"/><use href="#m" x="1153.5" y="1311.31"/><use href="#m" x="1155.9" y="1311.31"/><use href="#m" x="1158.29" y="1311.32"/><use href="#m" x="1160.69" y="1311.33"/><use href="#m" x="1163.09" y="1311.33"/><use href="#m" x="1165.49" y="1311.34"/><use href="#m" x="1167.89" y="1311.35"/><use href="#m" x="1170.28" y="1311.36"/><use href="#m" x="1172.68" y="1311.38"/><use href="#m" x="1175.08" y="1311.39"/><use href="#m" x="1177.48" y="1311.4"/><use href="#m" x="1179.87" y="1311.42"/><use href="#m" x="1182.27" y="1311.43"/><use href="#m" x="1184.67" y="1311.45"/><use href="#m" x="1187.07" y="1311.47"/><use href="#m" x="1189.47" y="1311.49"/><use href="#m" x="1191.86" y="1311.53"/><use href="#m" x="1194.26" y="1311.6"/><use href="#m" x="1196.66" y="1311.71"/><use href="#m" x="1199.06" y="1311.86"/><use href="#m" x="1201.45" y="1312.04"/><use href="#m" x="1203.85" y="1312.26"/><use href="#m" x="1206.25" y="1312.52"/><use href="#m" x="1208.65" y="1312.82"/><use href="#m" x="1211.05" y="1313.24"/><use href="#m" x="1213.44" y="1314.34"/><use href="#m" x="1215.84" y="1315.76"/><use href="#m" x="1218.24" y="1317.01"/><use href="#m" x="1220.64" y="1317.58"/><use href="#m" x="1223.03" y="1317.85"/><use href="#m" x="1225.43" y="1317.99"/><use href="#m" x="1227.83" y="1317.57"/><use href="#m" x="1230.23" y="1316.16"/><use href="#m" x="1232.63" y="1314.61"/><use href="#m" x="1235.02" y="1313.67"/><use href="#m" x="1237.42" y="1312.91"/><use href="#m" x="1239.82" y="1312.24"/><use href="#m" x="1242.22" y="1311.75"/><use href="#m" x="1244.62" y="1311.51"/><use href="#m" x="1247.01" y="1311.48"/><use href="#m" x="1249.41" y="1311.46"/><use href="#m" x="1251.81" y="1311.45"/><use href="#m" x="1254.21" y="1311.43"/><use href="#m" x="1256.6" y="1311.41"/><use href="#m" x="1259" y="1311.4"/><use href="#m" x="1261.4" y="1311.39"/><use href="#m" x="1263.8" y="1311.38"/><use href="#m" x="1266.2" y="1311.37"/><use href="#m" x="1268.59" y="1311.36"/><use href="#m" x="1270.99" y="1311.35"/><use href="#m" x="1273.39" y="1311.35"/><use href="#m" x="1275.79" y="1311.34"/><use href="#m" x="1278.18" y="1311.34"/><use href="#m" x="1280.58" y="1311.33"/><use href="#m" x="1282.98" y="1311.33"/><use href="#m" x="1285.38" y="1311.32"/><use href="#m" x="1287.78" y="1311.32"/><use href="#m" x="1290.17" y="1311.32"/><use href="#m" x="1292.57" y="1311.31"/><use href="#m" x="1294.97" y="1311.31"/><use href="#m" x="1297.37" y="1311.3"/><use href="#m" x="1299.76" y="1311.3"/><use href="#m" x="1302.16" y="1311.3"/><use href="#m" x="1304.56" y="1311.29"/><use href="#m" x="1306.96" y="1311.29"/><use href="#m" x="1309.36" y="1311.28"/><use href="#m" x="1311.75" y="1311.28"/><use href="#m" x="1314.15" y="1311.28"/><use href="#m" x="1316.55" y="1311.27"/><use href="#m" x="1318.95" y="1311.27"/><use href="#m" x="1321.34" y="1311.26"/><use href="#m" x="1323.74" y="1311.26"/><use href="#m" x="1326.14" y="1311.26"/><use href="#m" x="1328.54" y="1311.25"/><use href="#m" x="1330.94" y="1311.25"/><use href="#m" x="1333.33" y="1311.25"/><use href="#m" x="1335.73" y="1311.24"/><use href="#m" x="1338.13" y="1311.24"/><use href="#m" x="1340.53" y="1311.24"/><use href="#m" x="1342.93" y="1311.23"/><use href="#m" x="1345.32" y="1311.23"/><use href="#m" x="1347.72" y="1311.23"/><use href="#m" x="1350.12" y="1311.22"/><use href="#m" x="1352.52" y="1311.22"/><use href="#m" x="1354.91" y="1311.22"/><use href="#m" x="1357.31" y="1311.22"/><use href="#m" x="1359.71" y="1311.21"/><use href="#m" x="1362.11" y="1311.21"/><use href="#m" x="1364.51" y="1311.21"/><use href="#m" x="1366.9" y="1311.21"/><use href="#m" x="1369.3" y="1311.21"/><use href="#m" x="1371.7" y="1311.21"/><use href="#m" x="1374.1" y="1311.2"/><use href="#m" x="1376.49" y="1311.2"/><use href="#m" x="1378.89" y="1311.2"/><use href="#m" x="1381.29" y="1311.2"/><use href="#m" x="1383.69" y="1311.2"/><use href="#m" x="1386.09" y="1311.2"/><use href="#m" x="1388.48" y="1311.2"/><use href="#m" x="1390.88" y="1311.2"/><use href="#m" x="1393.28" y="1311.2"/><use href="#m" x="1395.68" y="1311.21"/><use href="#m" x="1398.07" y="1311.22"/><use href="#m" x="1400.47" y="1311.23"/><use href="#m" x="1402.87" y="1311.24"/><use href="#m" x="1405.27" y="1311.25"/><use href="#m" x="1407.67" y="1311.27"/><use href="#m" x="1410.06" y="1311.29"/><use href="#m" x="1412.46" y="1311.31"/><use href="#m" x="1414.86" y="1311.33"/><use href="#m" x="1417.26" y="1311.36"/><use href="#m" x="1419.65" y="1311.39"/><use href="#m" x="1422.05" y="1311.42"/><use href="#m" x="1424.45" y="1311.45"/><use href="#m" x="1426.85" y="1311.48"/><use href="#m" x="1429.25" y="1311.51"/><use href="#m" x="1431.64" y="1311.55"/><use href="#m" x="1434.04" y="1311.59"/><use href="#m" x="1436.44" y="1311.63"/><use href="#m" x="1438.84" y="1311.67"/><use href="#m" x="1441.24" y="1311.71"/><use href="#m" x="1443.63" y="1311.75"/><use href="#m" x="1446.03" y="1311.8"/><use href="#m" x="1448.43" y="1311.84"/><use href="#m" x="1450.83" y="1311.89"/><use href="#m" x="1453.22" y="1311.94"/><use href="#m" x="1455.62" y="1311.98"/><use href="#m" x="1458.02" y="1312.03"/><use href="#m" x="1460.42" y="1312.08"/><use href="#m" x="1462.82" y="1312.13"/><use href="#m" x="1465.21" y="1312.18"/><use href="#m" x="1467.61" y="1312.24"/><use href="#m" x="1470.01" y="1312.29"/><use href="#m" x="1472.41" y="1312.34"/><use href="#m" x="1474.8" y="1312.39"/><use href="#m" x="1477.2" y="1312.45"/><use href="#m" x="1479.6" y="1312.5"/></g>
<path class="b" stroke-dashoffset="0" d="M214 1331L215.5 1330.93L217 1330.86L218.5 1330.79L220 1330.71L221.5 1330.64L223 1330.56L224.5 1330.48L226 1330.39L227.5 1330.31L229 1330.22L230.5 1330.13L232 1330.04L233.5 1329.95L235 1329.86L236.5 1329.76L238 1329.66L239.5 1329.57L241 1329.47L242.5 1329.37L244 1329.26L245.5 1329.16L247 1329.05L248.5 1328.93L250 1328.82L251.5 1328.7L253 1328.58L254.5 1328.46L256 1328.34L257.5 1328.21L259 1328.08L260.5 1327.95L262 1327.82L263.5 1327.69L265 1327.56L266.5 1327.43L268 1327.29L269.5 1327.15L271 1327.01L272.5 1326.86L274 1326.71L275.5 1326.55L277 1326.39L278.5 1326.23L280 1326.07L281.5 1325.91L283 1325.75L284.5 1325.59L286 1325.44L287.5 1325.29L289 1325.14L290.5 1325L292 1324.86L293.5 1324.73L295 1324.61L296.5 1324.49L298 1324.37L299.5 1324.26L301 1324.15L302.5 1324.04L304 1323.93L305.5 1323.82L307 1323.72L308.5 1323.61L310 1323.51L311.5 1323.42L313 1323.32L314.5 1323.23L316 1323.13L317.5 1323.04L319 1322.95L320.5 1322.86L322 1322.77L323.5 1322.68L325 1322.58L326.5 1322.48L328 1322.38L329.5 1322.28L331 1322.18L332.5 1322.08L334 1321.99L335.5 1321.91L337 1321.83L338.5 1321.77L340 1321.71"/>
<path class="b" stroke-dashoffset="9.43" d="M465.5 1399.5L464.5 1398.87L463 1397.45L461.5 1395.6L460 1393.38L458.5 1390.27L457 1386.68L455.5 1383.19L454 1379.68L452.5 1376.14L451 1372.69L449.5 1369.28L448 1365.96L446.5 1362.89L445 1360.11L443.5 1357.5L442 1355.04L440.5 1352.7L439 1350.41L437.5 1348.17L436 1346.07L434.5 1344.19L433 1342.6L431.5 1341.17L430 1339.87L428.5 1338.68L427 1337.57L425.5 1336.55L424 1335.59L422.5 1334.66L421 1333.79L419.5 1332.96L418 1332.19L416.5 1331.48L415 1330.84L413.5 1330.29L412 1329.8L410.5 1329.36L409 1328.95L407.5 1328.57L406 1328.19L404.5 1327.8L403 1327.39L401.5 1326.93L400 1326.41L398.5 1325.88L397 1325.36L395.5 1324.88L394 1324.48L392.5 1324.18L391 1323.95L389.5 1323.72L388 1323.51L386.5 1323.31L385 1323.13L383.5 1322.96L382 1322.8L380.5 1322.65L379 1322.52L377.5 1322.4L376 1322.3L374.5 1322.22L373 1322.14L371.5 1322.09L370 1322.04L368.5 1321.99L367 1321.95L365.5 1321.91L364 1321.87L362.5 1321.83L361 1321.79L359.5 1321.76L358 1321.73L356.5 1321.7L355 1321.67L353.5 1321.65L352 1321.63L350.5 1321.62L349 1321.61L347.5 1321.6L346 1321.6L344.5 1321.61L343 1321.63L341.5 1321.66L340 1321.71"/>
<path class="b" stroke-dashoffset="9.4" d="M465.5 1399.5L467 1398.34L468.5 1396.57L470 1394.39L471.5 1391.71L473 1388.06L474.5 1384.02L476 1380.01L477.5 1375.76L479 1371.52L480.5 1367.33L482 1363.22L483.5 1359.42L485 1355.82L486.5 1352.46L488 1349.42L489.5 1346.64L491 1344.06L492.5 1341.65L494 1339.42L495.5 1337.27L497 1335.22L498.5 1333.32L500 1331.62L501.5 1330.13L503 1328.75L504.5 1327.48L506 1326.3L507.5 1325.21L509 1324.22L510.5 1323.3L512 1322.44L513.5 1321.63L515 1320.86L516.5 1320.15L518 1319.51L519.5 1318.94L521 1318.44L522.5 1318L524 1317.6L525.5 1317.23L527 1316.88L528.5 1316.56L530 1316.26L531.5 1315.96L533 1315.66L534.5 1315.37L536 1315.08L537.5 1314.8L539 1314.54L540.5 1314.29L542 1314.08L543.5 1313.9L545 1313.76L546.5 1313.63L548 1313.51L549.5 1313.41L551 1313.31L552.5 1313.22L554 1313.14L555.5 1313.06L557 1312.98L558.5 1312.91L560 1312.84L561.5 1312.77L563 1312.69L564.5 1312.61L566 1312.53L567.5 1312.45L569 1312.36L570.5 1312.27L572 1312.18L573.5 1312.09L575 1312.01L576.5 1311.92L578 1311.83L579.5 1311.74L581 1311.66L582.5 1311.57L584 1311.49L585.5 1311.41L587 1311.34L588.5 1311.27L590 1311.2L591.5 1311.13L593 1311.07L594.5 1311.01L596 1310.94L597.5 1310.88L599 1310.82L600.5 1310.76L602 1310.7L603.5 1310.64L605 1310.58L606.5 1310.53L608 1310.47L609.5 1310.42L611 1310.36L612.5 1310.31L614 1310.25L615.5 1310.2L617 1310.15L618.5 1310.1L620 1310.05L621.5 1310L623 1309.95L624.5 1309.9L626 1309.86L627.5 1309.81L629 1309.77L630.5 1309.72L632 1309.68L633.5 1309.63L635 1309.59L636.5 1309.55L638 1309.51L639.5 1309.47L641 1309.43L642.5 1309.39L644 1309.35L645.5 1309.31L647 1309.27L648.5 1309.23L650 1309.2L651.5 1309.16L653 1309.12L654.5 1309.09L656 1309.05L657.5 1309.01L659 1308.98L660.5 1308.94L662 1308.91L663.5 1308.87L665 1308.84L666.5 1308.81L668 1308.77L669.5 1308.74L671 1308.71L672.5 1308.68L674 1308.64L675.5 1308.61L677 1308.58L678.5 1308.55L680 1308.52L681.5 1308.49L683 1308.46L684.5 1308.43L686 1308.4L687.5 1308.37L689 1308.34L690.5 1308.31L692 1308.28L693.5 1308.26L695 1308.23L696.5 1308.2L698 1308.17L699.5 1308.15L701 1308.12L702.5 1308.09L704 1308.07L705.5 1308.04L707 1308.01L708.5 1307.99L710 1307.96L711.5 1307.94L713 1307.91L714.5 1307.89L716 1307.86L717.5 1307.84L719 1307.82L720.5 1307.79L722 1307.77L723.5 1307.75L725 1307.72L726.5 1307.7L728 1307.68L729.5 1307.66L731 1307.63L732.5 1307.61L734 1307.59L735.5 1307.57L737 1307.55L738.5 1307.53L740 1307.51L741.5 1307.49L743 1307.47L744.5 1307.45L746 1307.43L747.5 1307.41L749 1307.39L750.5 1307.37L752 1307.35L753.5 1307.34L755 1307.32L756.5 1307.3L758 1307.28L759.5 1307.26L761 1307.24L762.5 1307.23L764 1307.21L765.5 1307.19L767 1307.17L768.5 1307.15L770 1307.14L771.5 1307.12L773 1307.1L774.5 1307.08L776 1307.07L777.5 1307.05L779 1307.03L780.5 1307.01L782 1306.99L783.5 1306.98L785 1306.96L786.5 1306.94L788 1306.92L789.5 1306.9L791 1306.88L792.5 1306.87L794 1306.85L795.5 1306.83L797 1306.81L798.5 1306.79L800 1306.77L801.5 1306.75L803 1306.73L804.5 1306.71L806 1306.69L807.5 1306.67L809 1306.66L810.5 1306.64L812 1306.62L813.5 1306.6L815 1306.58L816.5 1306.56L818 1306.54L819.5 1306.52L821 1306.5L822.5 1306.48L824 1306.46L825.5 1306.44L827 1306.42L828.5 1306.39L830 1306.37L831.5 1306.35L833 1306.33L834.5 1306.31L836 1306.29L837.5 1306.27L839 1306.25L840.5 1306.23L842 1306.21L843.5 1306.19L845 1306.17L846.5 1306.15L848 1306.13L849.5 1306.11L851 1306.09L852.5 1306.07L854 1306.05L855.5 1306.04L857 1306.02L858.5 1306L860 1305.98L861.5 1305.96L863 1305.94L864.5 1305.92L866 1305.9L867.5 1305.88L869 1305.86L870.5 1305.85L872 1305.83L873.5 1305.81L875 1305.79L876.5 1305.77L878 1305.76L879.5 1305.74L881 1305.72L882.5 1305.7L884 1305.69L885.5 1305.67L887 1305.65L888.5 1305.64L890 1305.62L891.5 1305.6L893 1305.59L894.5 1305.57L896 1305.56L897.5 1305.54L899 1305.53L900.5 1305.51L902 1305.5L903.5 1305.48L905 1305.47L906.5 1305.45L908 1305.44L909.5 1305.43L911 1305.41L912.5 1305.4L914 1305.39L915.5 1305.37L917 1305.36L918.5 1305.35L920 1305.34L921.5 1305.32L923 1305.31L924.5 1305.3L926 1305.29L927.5 1305.28L929 1305.26L930.5 1305.25L932 1305.24L933.5 1305.23L935 1305.22L936.5 1305.2L938 1305.19L939.5 1305.18L941 1305.17L942.5 1305.16L944 1305.15L945.5 1305.14L947 1305.13L948.5 1305.12L950 1305.1L951.5 1305.09L953 1305.08L954.5 1305.07L956 1305.06L957.5 1305.05L959 1305.04L960.5 1305.03L962 1305.02L963.5 1305L965 1304.99L966.5 1304.98L968 1304.97L969.5 1304.96L971 1304.95L972.5 1304.94L974 1304.93"/>
<path class="b" stroke-dashoffset="9.53" d="M1480 1301.6L1479.5 1301.6L1478 1301.6L1476.5 1301.6L1475 1301.6L1473.5 1301.6L1472 1301.61L1470.5 1301.61L1469 1301.61L1467.5 1301.61L1466 1301.62L1464.5 1301.62L1463 1301.62L1461.5 1301.63L1460 1301.63L1458.5 1301.64L1457 1301.64L1455.5 1301.65L1454 1301.65L1452.5 1301.66L1451 1301.67L1449.5 1301.67L1448 1301.68L1446.5 1301.69L1445 1301.7L1443.5 1301.7L1442 1301.71L1440.5 1301.72L1439 1301.73L1437.5 1301.74L1436 1301.75L1434.5 1301.76L1433 1301.76L1431.5 1301.77L1430 1301.78L1428.5 1301.79L1427 1301.8L1425.5 1301.81L1424 1301.83L1422.5 1301.84L1421 1301.85L1419.5 1301.86L1418 1301.87L1416.5 1301.88L1415 1301.89L1413.5 1301.9L1412 1301.92L1410.5 1301.93L1409 1301.94L1407.5 1301.95L1406 1301.96L1404.5 1301.98L1403 1301.99L1401.5 1302L1400 1302.01L1398.5 1302.03L1397 1302.04L1395.5 1302.05L1394 1302.07L1392.5 1302.08L1391 1302.09L1389.5 1302.1L1388 1302.12L1386.5 1302.13L1385 1302.15L1383.5 1302.16L1382 1302.18L1380.5 1302.2L1379 1302.21L1377.5 1302.23L1376 1302.25L1374.5 1302.27L1373 1302.29L1371.5 1302.31L1370 1302.33L1368.5 1302.36L1367 1302.38L1365.5 1302.4L1364 1302.43L1362.5 1302.45L1361 1302.48L1359.5 1302.51L1358 1302.53L1356.5 1302.56L1355 1302.59L1353.5 1302.62L1352 1302.65L1350.5 1302.68L1349 1302.71L1347.5 1302.74L1346 1302.78L1344.5 1302.81L1343 1302.84L1341.5 1302.88L1340 1302.91L1338.5 1302.95L1337 1302.99L1335.5 1303.03L1334 1303.08L1332.5 1303.12L1331 1303.17L1329.5 1303.22L1328 1303.27L1326.5 1303.33L1325 1303.39L1323.5 1303.45L1322 1303.52L1320.5 1303.59L1319 1303.67L1317.5 1303.74L1316 1303.83L1314.5 1303.91L1313 1304.02L1311.5 1304.15L1310 1304.3L1308.5 1304.47L1307 1304.64L1305.5 1304.81L1304 1304.98L1302.5 1305.13L1301 1305.26L1299.5 1305.41L1298 1305.56L1296.5 1305.71L1295 1305.86L1293.5 1305.99L1292 1306.09L1290.5 1306.17L1289 1306.2L1287.5 1306.2L1286 1306.18L1284.5 1306.16L1283 1306.13L1281.5 1306.09L1280 1306.04L1278.5 1305.99L1277 1305.93L1275.5 1305.87L1274 1305.81L1272.5 1305.74L1271 1305.67L1269.5 1305.6L1268 1305.53L1266.5 1305.46L1265 1305.39L1263.5 1305.3L1262 1305.2L1260.5 1305.09L1259 1304.97L1257.5 1304.84L1256 1304.7L1254.5 1304.56L1253 1304.42L1251.5 1304.28L1250 1304.15L1248.5 1304.02L1247 1303.91L1245.5 1303.81L1244 1303.72L1242.5 1303.66L1241 1303.62L1239.5 1303.6L1238 1303.58L1236.5 1303.57L1235 1303.55L1233.5 1303.54L1232 1303.53L1230.5 1303.52L1229 1303.51L1227.5 1303.5L1226 1303.49L1224.5 1303.48L1223 1303.47L1221.5 1303.46L1220 1303.45L1218.5 1303.45L1217 1303.44L1215.5 1303.43L1214 1303.43L1212.5 1303.42L1211 1303.42L1209.5 1303.42L1208 1303.41L1206.5 1303.41L1205 1303.41L1203.5 1303.4L1202 1303.4L1200.5 1303.4L1199 1303.4L1197.5 1303.4L1196 1303.4L1194.5 1303.4L1193 1303.4L1191.5 1303.4L1190 1303.4L1188.5 1303.41L1187 1303.41L1185.5 1303.41L1184 1303.41L1182.5 1303.42L1181 1303.42L1179.5 1303.42L1178 1303.43L1176.5 1303.43L1175 1303.44L1173.5 1303.44L1172 1303.45L1170.5 1303.45L1169 1303.46L1167.5 1303.46L1166 1303.47L1164.5 1303.48L1163 1303.48L1161.5 1303.49L1160 1303.5L1158.5 1303.5L1157 1303.51L1155.5 1303.52L1154 1303.53L1152.5 1303.53L1151 1303.54L1149.5 1303.55L1148 1303.56L1146.5 1303.57L1145 1303.57L1143.5 1303.58L1142 1303.59L1140.5 1303.6L1139 1303.61L1137.5 1303.62L1136 1303.63L1134.5 1303.64L1133 1303.65L1131.5 1303.66L1130 1303.67L1128.5 1303.68L1127 1303.69L1125.5 1303.7L1124 1303.7L1122.5 1303.71L1121 1303.72L1119.5 1303.73L1118 1303.74L1116.5 1303.75L1115 1303.76L1113.5 1303.77L1112 1303.78L1110.5 1303.79L1109 1303.8L1107.5 1303.81L1106 1303.82L1104.5 1303.83L1103 1303.84L1101.5 1303.85L1100 1303.86L1098.5 1303.87L1097 1303.88L1095.5 1303.89L1094 1303.9L1092.5 1303.91L1091 1303.92L1089.5 1303.93L1088 1303.94L1086.5 1303.95L1085 1303.96L1083.5 1303.97L1082 1303.98L1080.5 1303.99L1079 1304L1077.5 1304.01L1076 1304.03L1074.5 1304.04L1073 1304.05L1071.5 1304.06L1070 1304.07L1068.5 1304.09L1067 1304.1L1065.5 1304.11L1064 1304.12L1062.5 1304.14L1061 1304.15L1059.5 1304.16L1058 1304.18L1056.5 1304.19L1055 1304.2L1053.5 1304.22L1052 1304.23L1050.5 1304.24L1049 1304.26L1047.5 1304.27L1046 1304.29L1044.5 1304.3L1043 1304.31L1041.5 1304.33L1040 1304.34L1038.5 1304.36L1037 1304.37L1035.5 1304.38L1034 1304.4L1032.5 1304.41L1031 1304.43L1029.5 1304.44L1028 1304.46L1026.5 1304.47L1025 1304.48L1023.5 1304.5L1022 1304.51L1020.5 1304.53L1019 1304.54L1017.5 1304.55L1016 1304.57L1014.5 1304.58L1013 1304.6L1011.5 1304.61L1010 1304.62L1008.5 1304.64L1007 1304.65L1005.5 1304.67L1004 1304.68L1002.5 1304.69L1001 1304.71L999.5 1304.72L998 1304.73L996.5 1304.75L995 1304.76L993.5 1304.77L992 1304.78L990.5 1304.8L989 1304.81L987.5 1304.82L986 1304.83L984.5 1304.84L983 1304.86L981.5 1304.87L980 1304.88L978.5 1304.89L977 1304.9L975.5 1304.91L974 1304.93"/>
<rect x="246" y="1447.3" width="835.3" height="160.7" fill="#fff" stroke="#4d4d4f" stroke-width="1.8"/>
<use href="#m" class="r" x="316" y="1489.9"/>
<path class="b" d="M257 1565.5H369.4"/>
<text class="g" x="383.2" y="1511.4">x-polarization, experimental</text>
<text class="g" x="383.2" y="1586.4">x-polarization, theoretical</text>
<text class="p" x="1353.3" y="1594.4">(c)</text>
<text class="t" transform="translate(464.2 1715.1) scale(1 1.04)" text-anchor="middle">0.6</text>
<text class="t" transform="translate(718.2 1715.1) scale(1 1.04)" text-anchor="middle">0.8</text>
<text class="t" transform="translate(974.2 1715.1) scale(1 1.04)" text-anchor="middle">1</text>
<text class="t" transform="translate(1227.2 1715.1) scale(1 1.04)" text-anchor="middle">1.2</text>
<text class="t" transform="translate(1481.2 1715.1) scale(1 1.04)" text-anchor="middle">1.4</text>
<text class="t" transform="translate(192 1656.2) scale(1 1.04)" text-anchor="end">0</text>
<text class="t" transform="translate(192 1489.7) scale(1 1.04)" text-anchor="end">0.5</text>
<text class="t" transform="translate(194.5 1323.2) scale(1 1.04)" text-anchor="end">1</text>
<text class="l" x="847" y="1802.9" text-anchor="middle">Wavelength (µm)</text>
<text class="l" transform="translate(76.9 1465.2) rotate(-90)" text-anchor="middle">Transmission</text></g>
<g><path class="gr" d="M465 1882V2211M719 1882V2211M973 1882V2211M1226 1882V2211M214 2046.5H1480"/>
<path class="a" d="M214 1882H1480V2211H214ZM465 2211v-13M465 1882v13M719 2211v-13M719 1882v13M973 2211v-13M973 1882v13M1226 2211v-13M1226 1882v13M214 2046.5h13M1480 2046.5h-13"/>
<g class="r"><use href="#m" x="214" y="1911"/><use href="#m" x="216.4" y="1911"/><use href="#m" x="218.8" y="1910.99"/><use href="#m" x="221.2" y="1910.99"/><use href="#m" x="223.6" y="1910.98"/><use href="#m" x="226" y="1910.97"/><use href="#m" x="228.4" y="1910.95"/><use href="#m" x="230.8" y="1910.93"/><use href="#m" x="233.2" y="1910.92"/><use href="#m" x="235.6" y="1910.89"/><use href="#m" x="238" y="1910.87"/><use href="#m" x="240.39" y="1910.84"/><use href="#m" x="242.79" y="1910.81"/><use href="#m" x="245.19" y="1910.78"/><use href="#m" x="247.59" y="1910.75"/><use href="#m" x="249.99" y="1910.72"/><use href="#m" x="252.39" y="1910.68"/><use href="#m" x="254.79" y="1910.64"/><use href="#m" x="257.19" y="1910.6"/><use href="#m" x="259.59" y="1910.56"/><use href="#m" x="261.99" y="1910.52"/><use href="#m" x="264.39" y="1910.47"/><use href="#m" x="266.79" y="1910.42"/><use href="#m" x="269.19" y="1910.37"/><use href="#m" x="271.59" y="1910.29"/><use href="#m" x="273.99" y="1910.19"/><use href="#m" x="276.39" y="1910.05"/><use href="#m" x="278.79" y="1909.89"/><use href="#m" x="281.19" y="1909.71"/><use href="#m" x="283.59" y="1909.51"/><use href="#m" x="285.99" y="1909.28"/><use href="#m" x="288.39" y="1909.04"/><use href="#m" x="290.79" y="1908.78"/><use href="#m" x="293.18" y="1908.5"/><use href="#m" x="295.58" y="1908.21"/><use href="#m" x="297.98" y="1907.91"/><use href="#m" x="300.38" y="1907.6"/><use href="#m" x="302.78" y="1907.28"/><use href="#m" x="305.18" y="1906.96"/><use href="#m" x="307.58" y="1906.63"/><use href="#m" x="309.98" y="1906.29"/><use href="#m" x="312.38" y="1905.96"/><use href="#m" x="314.78" y="1905.62"/><use href="#m" x="317.18" y="1905.29"/><use href="#m" x="319.58" y="1904.96"/><use href="#m" x="321.98" y="1904.61"/><use href="#m" x="324.38" y="1904.22"/><use href="#m" x="326.78" y="1903.8"/><use href="#m" x="329.18" y="1903.34"/><use href="#m" x="331.58" y="1902.86"/><use href="#m" x="333.98" y="1902.38"/><use href="#m" x="336.38" y="1901.89"/><use href="#m" x="338.78" y="1901.41"/><use href="#m" x="341.18" y="1900.94"/><use href="#m" x="343.57" y="1900.5"/><use href="#m" x="345.97" y="1900.09"/><use href="#m" x="348.37" y="1899.72"/><use href="#m" x="350.77" y="1899.4"/><use href="#m" x="353.17" y="1899.08"/><use href="#m" x="355.57" y="1898.75"/><use href="#m" x="357.97" y="1898.43"/><use href="#m" x="360.37" y="1898.11"/><use href="#m" x="362.77" y="1897.81"/><use href="#m" x="365.17" y="1897.53"/><use href="#m" x="367.57" y="1897.28"/><use href="#m" x="369.97" y="1897.08"/><use href="#m" x="372.37" y="1896.93"/><use href="#m" x="374.77" y="1896.83"/><use href="#m" x="377.17" y="1896.8"/><use href="#m" x="379.57" y="1896.83"/><use href="#m" x="381.97" y="1896.92"/><use href="#m" x="384.37" y="1897.04"/><use href="#m" x="386.77" y="1897.21"/><use href="#m" x="389.17" y="1897.41"/><use href="#m" x="391.57" y="1897.63"/><use href="#m" x="393.96" y="1897.87"/><use href="#m" x="396.36" y="1898.12"/><use href="#m" x="398.76" y="1898.37"/><use href="#m" x="401.16" y="1898.63"/><use href="#m" x="403.56" y="1898.95"/><use href="#m" x="405.96" y="1899.33"/><use href="#m" x="408.36" y="1899.75"/><use href="#m" x="410.76" y="1900.21"/><use href="#m" x="413.16" y="1900.7"/><use href="#m" x="415.56" y="1901.2"/><use href="#m" x="417.96" y="1901.7"/><use href="#m" x="420.36" y="1902.19"/><use href="#m" x="422.76" y="1902.67"/><use href="#m" x="425.16" y="1903.12"/><use href="#m" x="427.56" y="1903.57"/><use href="#m" x="429.96" y="1904.04"/><use href="#m" x="432.36" y="1904.52"/><use href="#m" x="434.76" y="1904.98"/><use href="#m" x="437.16" y="1905.44"/><use href="#m" x="439.56" y="1905.89"/><use href="#m" x="441.96" y="1906.31"/><use href="#m" x="444.36" y="1906.7"/><use href="#m" x="446.75" y="1907.08"/><use href="#m" x="449.15" y="1907.49"/><use href="#m" x="451.55" y="1907.91"/><use href="#m" x="453.95" y="1908.3"/><use href="#m" x="456.35" y="1908.65"/><use href="#m" x="458.75" y="1908.91"/><use href="#m" x="461.15" y="1909.07"/><use href="#m" x="463.55" y="1909.08"/><use href="#m" x="465.95" y="1908.77"/><use href="#m" x="468.35" y="1908.18"/><use href="#m" x="470.75" y="1907.4"/><use href="#m" x="473.15" y="1906.53"/><use href="#m" x="475.55" y="1905.66"/><use href="#m" x="477.95" y="1904.79"/><use href="#m" x="480.35" y="1903.79"/><use href="#m" x="482.75" y="1902.69"/><use href="#m" x="485.15" y="1901.5"/><use href="#m" x="487.55" y="1900.23"/><use href="#m" x="489.95" y="1898.87"/><use href="#m" x="492.35" y="1897.25"/><use href="#m" x="494.75" y="1895.5"/><use href="#m" x="497.14" y="1893.78"/><use href="#m" x="499.54" y="1892.26"/><use href="#m" x="501.94" y="1890.91"/><use href="#m" x="504.34" y="1889.56"/><use href="#m" x="506.74" y="1888.31"/><use href="#m" x="509.14" y="1887.28"/><use href="#m" x="511.54" y="1886.58"/><use href="#m" x="513.94" y="1886.19"/><use href="#m" x="516.34" y="1885.84"/><use href="#m" x="518.74" y="1885.56"/><use href="#m" x="521.14" y="1885.34"/><use href="#m" x="523.54" y="1885.22"/><use href="#m" x="525.94" y="1885.21"/><use href="#m" x="528.34" y="1885.26"/><use href="#m" x="530.74" y="1885.37"/><use href="#m" x="533.14" y="1885.52"/><use href="#m" x="535.54" y="1885.7"/><use href="#m" x="537.94" y="1885.89"/><use href="#m" x="540.34" y="1886.17"/><use href="#m" x="542.74" y="1886.57"/><use href="#m" x="545.14" y="1887.07"/><use href="#m" x="547.54" y="1887.62"/><use href="#m" x="549.93" y="1888.19"/><use href="#m" x="552.33" y="1888.73"/><use href="#m" x="554.73" y="1889.23"/><use href="#m" x="557.13" y="1889.72"/><use href="#m" x="559.53" y="1890.21"/><use href="#m" x="561.93" y="1890.7"/><use href="#m" x="564.33" y="1891.2"/><use href="#m" x="566.73" y="1891.69"/><use href="#m" x="569.13" y="1892.19"/><use href="#m" x="571.53" y="1892.69"/><use href="#m" x="573.93" y="1893.19"/><use href="#m" x="576.33" y="1893.69"/><use href="#m" x="578.73" y="1894.18"/><use href="#m" x="581.13" y="1894.68"/><use href="#m" x="583.53" y="1895.18"/><use href="#m" x="585.93" y="1895.67"/><use href="#m" x="588.33" y="1896.16"/><use href="#m" x="590.73" y="1896.65"/><use href="#m" x="593.13" y="1897.14"/><use href="#m" x="595.53" y="1897.65"/><use href="#m" x="597.93" y="1898.16"/><use href="#m" x="600.32" y="1898.68"/><use href="#m" x="602.72" y="1899.19"/><use href="#m" x="605.12" y="1899.7"/><use href="#m" x="607.52" y="1900.19"/><use href="#m" x="609.92" y="1900.68"/><use href="#m" x="612.32" y="1901.15"/><use href="#m" x="614.72" y="1901.6"/><use href="#m" x="617.12" y="1902.03"/><use href="#m" x="619.52" y="1902.42"/><use href="#m" x="621.92" y="1902.8"/><use href="#m" x="624.32" y="1903.17"/><use href="#m" x="626.72" y="1903.52"/><use href="#m" x="629.12" y="1903.87"/><use href="#m" x="631.52" y="1904.21"/><use href="#m" x="633.92" y="1904.54"/><use href="#m" x="636.32" y="1904.86"/><use href="#m" x="638.72" y="1905.17"/><use href="#m" x="641.12" y="1905.47"/><use href="#m" x="643.52" y="1905.76"/><use href="#m" x="645.92" y="1906.03"/><use href="#m" x="648.32" y="1906.3"/><use href="#m" x="650.71" y="1906.56"/><use href="#m" x="653.11" y="1906.81"/><use href="#m" x="655.51" y="1907.05"/><use href="#m" x="657.91" y="1907.28"/><use href="#m" x="660.31" y="1907.52"/><use href="#m" x="662.71" y="1907.75"/><use href="#m" x="665.11" y="1907.98"/><use href="#m" x="667.51" y="1908.2"/><use href="#m" x="669.91" y="1908.42"/><use href="#m" x="672.31" y="1908.64"/><use href="#m" x="674.71" y="1908.85"/><use href="#m" x="677.11" y="1909.05"/><use href="#m" x="679.51" y="1909.24"/><use href="#m" x="681.91" y="1909.43"/><use href="#m" x="684.31" y="1909.61"/><use href="#m" x="686.71" y="1909.78"/><use href="#m" x="689.11" y="1909.93"/><use href="#m" x="691.51" y="1910.08"/><use href="#m" x="693.91" y="1910.22"/><use href="#m" x="696.31" y="1910.34"/><use href="#m" x="698.71" y="1910.45"/><use href="#m" x="701.11" y="1910.54"/><use href="#m" x="703.5" y="1910.64"/><use href="#m" x="705.9" y="1910.73"/><use href="#m" x="708.3" y="1910.82"/><use href="#m" x="710.7" y="1910.91"/><use href="#m" x="713.1" y="1911"/><use href="#m" x="715.5" y="1911.09"/><use href="#m" x="717.9" y="1911.17"/><use href="#m" x="720.3" y="1911.25"/><use href="#m" x="722.7" y="1911.32"/><use href="#m" x="725.1" y="1911.39"/><use href="#m" x="727.5" y="1911.45"/><use href="#m" x="729.9" y="1911.51"/><use href="#m" x="732.3" y="1911.56"/><use href="#m" x="734.7" y="1911.6"/><use href="#m" x="737.1" y="1911.64"/><use href="#m" x="739.5" y="1911.67"/><use href="#m" x="741.9" y="1911.69"/><use href="#m" x="744.3" y="1911.7"/><use href="#m" x="746.7" y="1911.7"/><use href="#m" x="749.1" y="1911.69"/><use href="#m" x="751.5" y="1911.68"/><use href="#m" x="753.89" y="1911.65"/><use href="#m" x="756.29" y="1911.63"/><use href="#m" x="758.69" y="1911.59"/><use href="#m" x="761.09" y="1911.55"/><use href="#m" x="763.49" y="1911.5"/><use href="#m" x="765.89" y="1911.45"/><use href="#m" x="768.29" y="1911.4"/><use href="#m" x="770.69" y="1911.34"/><use href="#m" x="773.09" y="1911.27"/><use href="#m" x="775.49" y="1911.21"/><use href="#m" x="777.89" y="1911.14"/><use href="#m" x="780.29" y="1911.07"/><use href="#m" x="782.69" y="1911"/><use href="#m" x="785.09" y="1910.93"/><use href="#m" x="787.49" y="1910.86"/><use href="#m" x="789.89" y="1910.79"/><use href="#m" x="792.29" y="1910.72"/><use href="#m" x="794.69" y="1910.65"/><use href="#m" x="797.09" y="1910.58"/><use href="#m" x="799.49" y="1910.51"/><use href="#m" x="801.89" y="1910.45"/><use href="#m" x="804.29" y="1910.38"/><use href="#m" x="806.68" y="1910.31"/><use href="#m" x="809.08" y="1910.24"/><use href="#m" x="811.48" y="1910.16"/><use href="#m" x="813.88" y="1910.08"/><use href="#m" x="816.28" y="1910"/><use href="#m" x="818.68" y="1909.92"/><use href="#m" x="821.08" y="1909.84"/><use href="#m" x="823.48" y="1909.76"/><use href="#m" x="825.88" y="1909.67"/><use href="#m" x="828.28" y="1909.59"/><use href="#m" x="830.68" y="1909.51"/><use href="#m" x="833.08" y="1909.43"/><use href="#m" x="835.48" y="1909.34"/><use href="#m" x="837.88" y="1909.26"/><use href="#m" x="840.28" y="1909.19"/><use href="#m" x="842.68" y="1909.11"/><use href="#m" x="845.08" y="1909.04"/><use href="#m" x="847.48" y="1908.96"/><use href="#m" x="849.88" y="1908.9"/><use href="#m" x="852.28" y="1908.83"/><use href="#m" x="854.68" y="1908.76"/><use href="#m" x="857.07" y="1908.7"/><use href="#m" x="859.47" y="1908.63"/><use href="#m" x="861.87" y="1908.57"/><use href="#m" x="864.27" y="1908.51"/><use href="#m" x="866.67" y="1908.45"/><use href="#m" x="869.07" y="1908.39"/><use href="#m" x="871.47" y="1908.33"/><use href="#m" x="873.87" y="1908.27"/><use href="#m" x="876.27" y="1908.21"/><use href="#m" x="878.67" y="1908.15"/><use href="#m" x="881.07" y="1908.09"/><use href="#m" x="883.47" y="1908.04"/><use href="#m" x="885.87" y="1907.98"/><use href="#m" x="888.27" y="1907.92"/><use href="#m" x="890.67" y="1907.87"/><use href="#m" x="893.07" y="1907.81"/><use href="#m" x="895.47" y="1907.75"/><use href="#m" x="897.87" y="1907.7"/><use href="#m" x="900.27" y="1907.64"/><use href="#m" x="902.67" y="1907.59"/><use href="#m" x="905.07" y="1907.53"/><use href="#m" x="907.46" y="1907.48"/><use href="#m" x="909.86" y="1907.42"/><use href="#m" x="912.26" y="1907.37"/><use href="#m" x="914.66" y="1907.31"/><use href="#m" x="917.06" y="1907.25"/><use href="#m" x="919.46" y="1907.2"/><use href="#m" x="921.86" y="1907.14"/><use href="#m" x="924.26" y="1907.08"/><use href="#m" x="926.66" y="1907.03"/><use href="#m" x="929.06" y="1906.97"/><use href="#m" x="931.46" y="1906.9"/><use href="#m" x="933.86" y="1906.84"/><use href="#m" x="936.26" y="1906.77"/><use href="#m" x="938.66" y="1906.7"/><use href="#m" x="941.06" y="1906.62"/><use href="#m" x="943.46" y="1906.55"/><use href="#m" x="945.86" y="1906.47"/><use href="#m" x="948.26" y="1906.39"/><use href="#m" x="950.66" y="1906.32"/><use href="#m" x="953.06" y="1906.24"/><use href="#m" x="955.46" y="1906.17"/><use href="#m" x="957.86" y="1906.09"/><use href="#m" x="960.25" y="1906.02"/><use href="#m" x="962.65" y="1905.95"/><use href="#m" x="965.05" y="1905.88"/><use href="#m" x="967.45" y="1905.82"/><use href="#m" x="969.85" y="1905.76"/><use href="#m" x="972.25" y="1905.71"/><use href="#m" x="974.65" y="1905.66"/><use href="#m" x="977.05" y="1905.62"/><use href="#m" x="979.45" y="1905.58"/><use href="#m" x="981.85" y="1905.55"/><use href="#m" x="984.25" y="1905.52"/><use href="#m" x="986.65" y="1905.51"/><use href="#m" x="989.05" y="1905.5"/><use href="#m" x="991.45" y="1905.5"/><use href="#m" x="993.85" y="1905.51"/><use href="#m" x="996.25" y="1905.51"/><use href="#m" x="998.65" y="1905.53"/><use href="#m" x="1001.05" y="1905.54"/><use href="#m" x="1003.45" y="1905.56"/><use href="#m" x="1005.85" y="1905.58"/><use href="#m" x="1008.25" y="1905.61"/><use href="#m" x="1010.64" y="1905.64"/><use href="#m" x="1013.04" y="1905.67"/><use href="#m" x="1015.44" y="1905.7"/><use href="#m" x="1017.84" y="1905.74"/><use href="#m" x="1020.24" y="1905.77"/><use href="#m" x="1022.64" y="1905.81"/><use href="#m" x="1025.04" y="1905.86"/><use href="#m" x="1027.44" y="1905.9"/><use href="#m" x="1029.84" y="1905.95"/><use href="#m" x="1032.24" y="1906"/><use href="#m" x="1034.64" y="1906.05"/><use href="#m" x="1037.04" y="1906.1"/><use href="#m" x="1039.44" y="1906.15"/><use href="#m" x="1041.84" y="1906.2"/><use href="#m" x="1044.24" y="1906.25"/><use href="#m" x="1046.64" y="1906.31"/><use href="#m" x="1049.04" y="1906.36"/><use href="#m" x="1051.44" y="1906.42"/><use href="#m" x="1053.84" y="1906.47"/><use href="#m" x="1056.24" y="1906.53"/><use href="#m" x="1058.64" y="1906.58"/><use href="#m" x="1061.04" y="1906.64"/><use href="#m" x="1063.43" y="1906.69"/><use href="#m" x="1065.83" y="1906.75"/><use href="#m" x="1068.23" y="1906.8"/><use href="#m" x="1070.63" y="1906.85"/><use href="#m" x="1073.03" y="1906.91"/><use href="#m" x="1075.43" y="1906.96"/><use href="#m" x="1077.83" y="1907.01"/><use href="#m" x="1080.23" y="1907.05"/><use href="#m" x="1082.63" y="1907.1"/><use href="#m" x="1085.03" y="1907.14"/><use href="#m" x="1087.43" y="1907.19"/><use href="#m" x="1089.83" y="1907.23"/><use href="#m" x="1092.23" y="1907.27"/><use href="#m" x="1094.63" y="1907.3"/><use href="#m" x="1097.03" y="1907.33"/><use href="#m" x="1099.43" y="1907.37"/><use href="#m" x="1101.83" y="1907.39"/><use href="#m" x="1104.23" y="1907.42"/><use href="#m" x="1106.63" y="1907.44"/><use href="#m" x="1109.03" y="1907.46"/><use href="#m" x="1111.43" y="1907.48"/><use href="#m" x="1113.82" y="1907.49"/><use href="#m" x="1116.22" y="1907.5"/><use href="#m" x="1118.62" y="1907.5"/><use href="#m" x="1121.02" y="1907.5"/><use href="#m" x="1123.42" y="1907.5"/><use href="#m" x="1125.82" y="1907.5"/><use href="#m" x="1128.22" y="1907.49"/><use href="#m" x="1130.62" y="1907.49"/><use href="#m" x="1133.02" y="1907.48"/><use href="#m" x="1135.42" y="1907.47"/><use href="#m" x="1137.82" y="1907.46"/><use href="#m" x="1140.22" y="1907.45"/><use href="#m" x="1142.62" y="1907.44"/><use href="#m" x="1145.02" y="1907.43"/><use href="#m" x="1147.42" y="1907.42"/><use href="#m" x="1149.82" y="1907.41"/><use href="#m" x="1152.22" y="1907.39"/><use href="#m" x="1154.62" y="1907.38"/><use href="#m" x="1157.02" y="1907.37"/><use href="#m" x="1159.42" y="1907.35"/><use href="#m" x="1161.82" y="1907.34"/><use href="#m" x="1164.21" y="1907.33"/><use href="#m" x="1166.61" y="1907.31"/><use href="#m" x="1169.01" y="1907.3"/><use href="#m" x="1171.41" y="1907.29"/><use href="#m" x="1173.81" y="1907.28"/><use href="#m" x="1176.21" y="1907.26"/><use href="#m" x="1178.61" y="1907.25"/><use href="#m" x="1181.01" y="1907.24"/><use href="#m" x="1183.41" y="1907.23"/><use href="#m" x="1185.81" y="1907.22"/><use href="#m" x="1188.21" y="1907.22"/><use href="#m" x="1190.61" y="1907.21"/><use href="#m" x="1193.01" y="1907.21"/><use href="#m" x="1195.41" y="1907.2"/><use href="#m" x="1197.81" y="1907.2"/><use href="#m" x="1200.21" y="1907.2"/><use href="#m" x="1202.61" y="1907.2"/><use href="#m" x="1205.01" y="1907.21"/><use href="#m" x="1207.41" y="1907.21"/><use href="#m" x="1209.81" y="1907.22"/><use href="#m" x="1212.21" y="1907.24"/><use href="#m" x="1214.61" y="1907.25"/><use href="#m" x="1217" y="1907.27"/><use href="#m" x="1219.4" y="1907.28"/><use href="#m" x="1221.8" y="1907.3"/><use href="#m" x="1224.2" y="1907.33"/><use href="#m" x="1226.6" y="1907.35"/><use href="#m" x="1229" y="1907.37"/><use href="#m" x="1231.4" y="1907.4"/><use href="#m" x="1233.8" y="1907.42"/><use href="#m" x="1236.2" y="1907.45"/><use href="#m" x="1238.6" y="1907.47"/><use href="#m" x="1241" y="1907.5"/><use href="#m" x="1243.5" y="1922.9"/><use href="#m" x="1246.1" y="1944"/><use href="#m" x="1249.1" y="1966.9"/><use href="#m" x="1251.9" y="1991"/><use href="#m" x="1254.3" y="2016.8"/><use href="#m" x="1257.3" y="2040.9"/><use href="#m" x="1258.6" y="2049.5"/><use href="#m" x="1261" y="2053"/><use href="#m" x="1263.6" y="2056.5"/><use href="#m" x="1266.2" y="2062.5"/><use href="#m" x="1268.6" y="2070"/><use href="#m" x="1270.8" y="2078.5"/><use href="#m" x="1273" y="2087.5"/><use href="#m" x="1275.2" y="2096.5"/><use href="#m" x="1277.5" y="2105"/><use href="#m" x="1280" y="2112.5"/><use href="#m" x="1282.4" y="2119.5"/><use href="#m" x="1284.8" y="2125"/><use href="#m" x="1287.2" y="2129"/><use href="#m" x="1289.6" y="2131.8"/><use href="#m" x="1291.8" y="2132"/><use href="#m" x="1294.2" y="2129"/><use href="#m" x="1296.6" y="2122"/><use href="#m" x="1298.8" y="2108"/><use href="#m" x="1301" y="2082.6"/><use href="#m" x="1303.1" y="2039.1"/><use href="#m" x="1305.7" y="1999.2"/><use href="#m" x="1308.4" y="1966.9"/><use href="#m" x="1311.3" y="1939.3"/><use href="#m" x="1313.9" y="1917"/><use href="#m" x="1316.3" y="1908.5"/><use href="#m" x="1318.7" y="1908.57"/><use href="#m" x="1321.1" y="1908.65"/><use href="#m" x="1323.5" y="1908.72"/><use href="#m" x="1325.91" y="1908.79"/><use href="#m" x="1328.31" y="1908.86"/><use href="#m" x="1330.71" y="1908.94"/><use href="#m" x="1333.11" y="1909.01"/><use href="#m" x="1335.51" y="1909.08"/><use href="#m" x="1337.91" y="1909.15"/><use href="#m" x="1340.31" y="1909.22"/><use href="#m" x="1342.72" y="1909.29"/><use href="#m" x="1345.12" y="1909.36"/><use href="#m" x="1347.52" y="1909.43"/><use href="#m" x="1349.92" y="1909.5"/><use href="#m" x="1352.32" y="1909.57"/><use href="#m" x="1354.72" y="1909.65"/><use href="#m" x="1357.12" y="1909.73"/><use href="#m" x="1359.53" y="1909.82"/><use href="#m" x="1361.93" y="1909.9"/><use href="#m" x="1364.33" y="1909.99"/><use href="#m" x="1366.73" y="1910.08"/><use href="#m" x="1369.13" y="1910.16"/><use href="#m" x="1371.53" y="1910.24"/><use href="#m" x="1373.94" y="1910.32"/><use href="#m" x="1376.34" y="1910.39"/><use href="#m" x="1378.74" y="1910.45"/><use href="#m" x="1381.14" y="1910.51"/><use href="#m" x="1383.54" y="1910.55"/><use href="#m" x="1385.94" y="1910.58"/><use href="#m" x="1388.34" y="1910.6"/><use href="#m" x="1390.75" y="1910.6"/><use href="#m" x="1393.15" y="1910.6"/><use href="#m" x="1395.55" y="1910.6"/><use href="#m" x="1397.95" y="1910.6"/><use href="#m" x="1400.35" y="1910.59"/><use href="#m" x="1402.75" y="1910.59"/><use href="#m" x="1405.15" y="1910.59"/><use href="#m" x="1407.56" y="1910.59"/><use href="#m" x="1409.96" y="1910.58"/><use href="#m" x="1412.36" y="1910.58"/><use href="#m" x="1414.76" y="1910.57"/><use href="#m" x="1417.16" y="1910.57"/><use href="#m" x="1419.56" y="1910.56"/><use href="#m" x="1421.96" y="1910.56"/><use href="#m" x="1424.37" y="1910.55"/><use href="#m" x="1426.77" y="1910.54"/><use href="#m" x="1429.17" y="1910.54"/><use href="#m" x="1431.57" y="1910.53"/><use href="#m" x="1433.97" y="1910.52"/><use href="#m" x="1436.37" y="1910.51"/><use href="#m" x="1438.77" y="1910.5"/><use href="#m" x="1441.18" y="1910.5"/><use href="#m" x="1443.58" y="1910.48"/><use href="#m" x="1445.98" y="1910.47"/><use href="#m" x="1448.38" y="1910.45"/><use href="#m" x="1450.78" y="1910.43"/><use href="#m" x="1453.18" y="1910.4"/><use href="#m" x="1455.59" y="1910.37"/><use href="#m" x="1457.99" y="1910.34"/><use href="#m" x="1460.39" y="1910.31"/><use href="#m" x="1462.79" y="1910.28"/><use href="#m" x="1465.19" y="1910.24"/><use href="#m" x="1467.59" y="1910.2"/><use href="#m" x="1469.99" y="1910.16"/><use href="#m" x="1472.4" y="1910.12"/><use href="#m" x="1474.8" y="1910.08"/><use href="#m" x="1477.2" y="1910.04"/><use href="#m" x="1479.6" y="1910"/></g>
<path class="b" stroke-dashoffset="0" d="M214 1893.2L215.5 1893.2L217 1893.2L218.5 1893.2L220 1893.2L221.5 1893.2L223 1893.2L224.5 1893.2L226 1893.2L227.5 1893.2L229 1893.2L230.5 1893.2L232 1893.2L233.5 1893.2L235 1893.2L236.5 1893.2L238 1893.2L239.5 1893.2L241 1893.2L242.5 1893.2L244 1893.2L245.5 1893.2L247 1893.2L248.5 1893.2L250 1893.2L251.5 1893.2L253 1893.2L254.5 1893.2L256 1893.2L257.5 1893.2L259 1893.2L260.5 1893.2L262 1893.2L263.5 1893.2L265 1893.2L266.5 1893.2L268 1893.2L269.5 1893.2L271 1893.2L272.5 1893.2L274 1893.2L275.5 1893.2L277 1893.2L278.5 1893.2L280 1893.2L281.5 1893.2L283 1893.2L284.5 1893.2L286 1893.2L287.5 1893.2L289 1893.2L290.5 1893.2L292 1893.2L293.5 1893.2L295 1893.2L296.5 1893.2L298 1893.2L299.5 1893.2L301 1893.2L302.5 1893.2L304 1893.2L305.5 1893.2L307 1893.2L308.5 1893.2L310 1893.2L311.5 1893.2L313 1893.2L314.5 1893.2L316 1893.2L317.5 1893.2L319 1893.2L320.5 1893.2L322 1893.2L323.5 1893.2L325 1893.2L326.5 1893.2L328 1893.2L329.5 1893.2L331 1893.2L332.5 1893.2L334 1893.2L335.5 1893.2L337 1893.2L338.5 1893.2L340 1893.2L341.5 1893.2L343 1893.2L344.5 1893.2L346 1893.2L347.5 1893.2L349 1893.2L350.5 1893.2L352 1893.2L353.5 1893.2L355 1893.2L356.5 1893.2L358 1893.2L359.5 1893.2L361 1893.2L362.5 1893.2L364 1893.2L365.5 1893.2L367 1893.2L368.5 1893.2L370 1893.2L371.5 1893.2L373 1893.2L374.5 1893.2L376 1893.2L377.5 1893.2L379 1893.2L380.5 1893.2L382 1893.2L383.5 1893.2L385 1893.2L386.5 1893.2L388 1893.2L389.5 1893.2L391 1893.2L392.5 1893.2L394 1893.2L395.5 1893.2L397 1893.2L398.5 1893.2L400 1893.2L401.5 1893.2L403 1893.2L404.5 1893.2L406 1893.2L407.5 1893.2L409 1893.2L410.5 1893.2L412 1893.2L413.5 1893.2L415 1893.2L416.5 1893.2L418 1893.2L419.5 1893.2L421 1893.2L422.5 1893.2L424 1893.2L425.5 1893.2L427 1893.2L428.5 1893.2L430 1893.2L431.5 1893.2L433 1893.2L434.5 1893.2L436 1893.2L437.5 1893.2L439 1893.2L440.5 1893.2L442 1893.2L443.5 1893.2L445 1893.2L446.5 1893.2L448 1893.2L449.5 1893.2L451 1893.2L452.5 1893.2L454 1893.2L455.5 1893.2L457 1893.2L458.5 1893.2L460 1893.2L461.5 1893.2L463 1893.2L464.5 1893.2L466 1893.2L467.5 1893.2L469 1893.2L470.5 1893.2L472 1893.2L473.5 1893.2L475 1893.2L476.5 1893.2L478 1893.2L479.5 1893.2L481 1893.2L482.5 1893.2L484 1893.2L485.5 1893.2L487 1893.2L488.5 1893.2L490 1893.2L491.5 1893.2L493 1893.2L494.5 1893.2L496 1893.2L497.5 1893.2L499 1893.2L500.5 1893.2L502 1893.2L503.5 1893.2L505 1893.2L506.5 1893.2L508 1893.2L509.5 1893.2L511 1893.2L512.5 1893.2L514 1893.2L515.5 1893.2L517 1893.2L518.5 1893.2L520 1893.2L521.5 1893.2L523 1893.2L524.5 1893.2L526 1893.2L527.5 1893.2L529 1893.2L530.5 1893.2L532 1893.2L533.5 1893.2L535 1893.2L536.5 1893.2L538 1893.2L539.5 1893.2L541 1893.2L542.5 1893.2L544 1893.2L545.5 1893.2L547 1893.2L548.5 1893.2L550 1893.2L551.5 1893.2L553 1893.2L554.5 1893.2L556 1893.2L557.5 1893.2L559 1893.2L560.5 1893.2L562 1893.2L563.5 1893.2L565 1893.2L566.5 1893.2L568 1893.2L569.5 1893.2L571 1893.2L572.5 1893.2L574 1893.2L575.5 1893.2L577 1893.2L578.5 1893.2L580 1893.2L581.5 1893.2L583 1893.2L584.5 1893.2L586 1893.2L587.5 1893.2L589 1893.2L590.5 1893.2L592 1893.2L593.5 1893.2L595 1893.2L596.5 1893.2L598 1893.2L599.5 1893.2L601 1893.2L602.5 1893.2L604 1893.2L605.5 1893.2L607 1893.2L608.5 1893.2L610 1893.2L611.5 1893.2L613 1893.2L614.5 1893.2L616 1893.2L617.5 1893.2L619 1893.2L620.5 1893.2L622 1893.2L623.5 1893.2L625 1893.2L626.5 1893.2L628 1893.2L629.5 1893.2L631 1893.2L632.5 1893.2L634 1893.2L635.5 1893.2L637 1893.2L638.5 1893.2L640 1893.2L641.5 1893.2L643 1893.2L644.5 1893.2L646 1893.2L647.5 1893.2L649 1893.2L650.5 1893.2L652 1893.2L653.5 1893.2L655 1893.2L656.5 1893.2L658 1893.2L659.5 1893.2L661 1893.2L662.5 1893.2L664 1893.2L665.5 1893.2L667 1893.2L668.5 1893.2L670 1893.2L671.5 1893.2L673 1893.2L674.5 1893.2L676 1893.2L677.5 1893.2L679 1893.2L680.5 1893.2L682 1893.2L683.5 1893.2L685 1893.2L686.5 1893.2L688 1893.2L689.5 1893.2L691 1893.2L692.5 1893.2L694 1893.2L695.5 1893.2L697 1893.2L698.5 1893.2L700 1893.2L701.5 1893.2L703 1893.2L704.5 1893.2L706 1893.2L707.5 1893.2L709 1893.2L710.5 1893.2L712 1893.2L713.5 1893.2L715 1893.2L716.5 1893.2L718 1893.2L719.5 1893.2L721 1893.2L722.5 1893.2L724 1893.2L725.5 1893.2L727 1893.2L728.5 1893.2L730 1893.2L731.5 1893.2L733 1893.2L734.5 1893.2L736 1893.2L737.5 1893.2L739 1893.2L740.5 1893.2L742 1893.2L743.5 1893.2L745 1893.2L746.5 1893.2L748 1893.2L749.5 1893.2L751 1893.2L752.5 1893.2"/>
<path class="b" stroke-dashoffset="3.1" d="M1288.3 2120.3L1288 2119.96L1286.5 2118.1L1285 2116L1283.5 2113.75L1282 2111.27L1280.5 2108.26L1279 2104.08L1277.5 2098.76L1276 2093.34L1274.5 2087.55L1273 2081.05L1271.5 2074.13L1270 2067.91L1268.5 2061.76L1267 2055.52L1265.5 2048.34L1264 2039.7L1262.5 2029.34L1261 2019.83L1259.5 2010.95L1258 2002.03L1256.5 1992.7L1255 1984.02L1253.5 1974.07L1252 1966.28L1250.5 1960.22L1249 1952.23L1247.5 1945.09L1246 1939.36L1244.5 1933.71L1243 1928.04L1241.5 1923.59L1240 1920L1238.5 1916.94L1237 1914.34L1235.5 1911.94L1234 1909.72L1232.5 1907.73L1231 1906.06L1229.5 1904.77L1228 1903.81L1226.5 1903.01L1225 1902.32L1223.5 1901.71L1222 1901.13L1220.5 1900.54L1219 1899.92L1217.5 1899.28L1216 1898.64L1214.5 1898.03L1213 1897.46L1211.5 1896.95L1210 1896.52L1208.5 1896.18L1207 1895.86L1205.5 1895.56L1204 1895.29L1202.5 1895.05L1201 1894.84L1199.5 1894.66L1198 1894.52L1196.5 1894.39L1195 1894.28L1193.5 1894.16L1192 1894.05L1190.5 1893.94L1189 1893.84L1187.5 1893.74L1186 1893.65L1184.5 1893.57L1183 1893.49L1181.5 1893.42L1180 1893.36L1178.5 1893.31L1177 1893.27L1175.5 1893.23L1174 1893.21L1172.5 1893.2L1171 1893.2L1169.5 1893.2L1168 1893.2L1166.5 1893.2L1165 1893.2L1163.5 1893.2L1162 1893.2L1160.5 1893.2L1159 1893.2L1157.5 1893.2L1156 1893.2L1154.5 1893.2L1153 1893.2L1151.5 1893.2L1150 1893.2L1148.5 1893.2L1147 1893.2L1145.5 1893.2L1144 1893.2L1142.5 1893.2L1141 1893.2L1139.5 1893.2L1138 1893.2L1136.5 1893.2L1135 1893.2L1133.5 1893.2L1132 1893.2L1130.5 1893.2L1129 1893.2L1127.5 1893.2L1126 1893.2L1124.5 1893.2L1123 1893.2L1121.5 1893.2L1120 1893.2L1118.5 1893.2L1117 1893.2L1115.5 1893.2L1114 1893.2L1112.5 1893.2L1111 1893.2L1109.5 1893.2L1108 1893.2L1106.5 1893.2L1105 1893.2L1103.5 1893.2L1102 1893.2L1100.5 1893.2L1099 1893.2L1097.5 1893.2L1096 1893.2L1094.5 1893.2L1093 1893.2L1091.5 1893.2L1090 1893.2L1088.5 1893.2L1087 1893.2L1085.5 1893.2L1084 1893.2L1082.5 1893.2L1081 1893.2L1079.5 1893.2L1078 1893.2L1076.5 1893.2L1075 1893.2L1073.5 1893.2L1072 1893.2L1070.5 1893.2L1069 1893.2L1067.5 1893.2L1066 1893.2L1064.5 1893.2L1063 1893.2L1061.5 1893.2L1060 1893.2L1058.5 1893.2L1057 1893.2L1055.5 1893.2L1054 1893.2L1052.5 1893.2L1051 1893.2L1049.5 1893.2L1048 1893.2L1046.5 1893.2L1045 1893.2L1043.5 1893.2L1042 1893.2L1040.5 1893.2L1039 1893.2L1037.5 1893.2L1036 1893.2L1034.5 1893.2L1033 1893.2L1031.5 1893.2L1030 1893.2L1028.5 1893.2L1027 1893.2L1025.5 1893.2L1024 1893.2L1022.5 1893.2L1021 1893.2L1019.5 1893.2L1018 1893.2L1016.5 1893.2L1015 1893.2L1013.5 1893.2L1012 1893.2L1010.5 1893.2L1009 1893.2L1007.5 1893.2L1006 1893.2L1004.5 1893.2L1003 1893.2L1001.5 1893.2L1000 1893.2L998.5 1893.2L997 1893.2L995.5 1893.2L994 1893.2L992.5 1893.2L991 1893.2L989.5 1893.2L988 1893.2L986.5 1893.2L985 1893.2L983.5 1893.2L982 1893.2L980.5 1893.2L979 1893.2L977.5 1893.2L976 1893.2L974.5 1893.2L973 1893.2L971.5 1893.2L970 1893.2L968.5 1893.2L967 1893.2L965.5 1893.2L964 1893.2L962.5 1893.2L961 1893.2L959.5 1893.2L958 1893.2L956.5 1893.2L955 1893.2L953.5 1893.2L952 1893.2L950.5 1893.2L949 1893.2L947.5 1893.2L946 1893.2L944.5 1893.2L943 1893.2L941.5 1893.2L940 1893.2L938.5 1893.2L937 1893.2L935.5 1893.2L934 1893.2L932.5 1893.2L931 1893.2L929.5 1893.2L928 1893.2L926.5 1893.2L925 1893.2L923.5 1893.2L922 1893.2L920.5 1893.2L919 1893.2L917.5 1893.2L916 1893.2L914.5 1893.2L913 1893.2L911.5 1893.2L910 1893.2L908.5 1893.2L907 1893.2L905.5 1893.2L904 1893.2L902.5 1893.2L901 1893.2L899.5 1893.2L898 1893.2L896.5 1893.2L895 1893.2L893.5 1893.2L892 1893.2L890.5 1893.2L889 1893.2L887.5 1893.2L886 1893.2L884.5 1893.2L883 1893.2L881.5 1893.2L880 1893.2L878.5 1893.2L877 1893.2L875.5 1893.2L874 1893.2L872.5 1893.2L871 1893.2L869.5 1893.2L868 1893.2L866.5 1893.2L865 1893.2L863.5 1893.2L862 1893.2L860.5 1893.2L859 1893.2L857.5 1893.2L856 1893.2L854.5 1893.2L853 1893.2L851.5 1893.2L850 1893.2L848.5 1893.2L847 1893.2L845.5 1893.2L844 1893.2L842.5 1893.2L841 1893.2L839.5 1893.2L838 1893.2L836.5 1893.2L835 1893.2L833.5 1893.2L832 1893.2L830.5 1893.2L829 1893.2L827.5 1893.2L826 1893.2L824.5 1893.2L823 1893.2L821.5 1893.2L820 1893.2L818.5 1893.2L817 1893.2L815.5 1893.2L814 1893.2L812.5 1893.2L811 1893.2L809.5 1893.2L808 1893.2L806.5 1893.2L805 1893.2L803.5 1893.2L802 1893.2L800.5 1893.2L799 1893.2L797.5 1893.2L796 1893.2L794.5 1893.2L793 1893.2L791.5 1893.2L790 1893.2L788.5 1893.2L787 1893.2L785.5 1893.2L784 1893.2L782.5 1893.2L781 1893.2L779.5 1893.2L778 1893.2L776.5 1893.2L775 1893.2L773.5 1893.2L772 1893.2L770.5 1893.2L769 1893.2L767.5 1893.2L766 1893.2L764.5 1893.2L763 1893.2L761.5 1893.2L760 1893.2L758.5 1893.2L757 1893.2L755.5 1893.2L754 1893.2L752.5 1893.2"/>
<path class="b" stroke-dashoffset="4" d="M1288.3 2120.3L1289.8 2119.42L1291.3 2117.9L1292.8 2115.88L1294.3 2113.52L1295.8 2110.94L1297.3 2107.44L1298.8 2103.14L1300.3 2098.76L1301.8 2094.24L1303.3 2089.34L1304.8 2083.84L1306.3 2077.9L1307.8 2071.85L1309.3 2065.34L1310.8 2058.11L1312.3 2049.74L1313.8 2041.01L1315.3 2032.7L1316.8 2023.32L1318.3 2014.77L1319.8 2006.31L1321.3 1997.41L1322.8 1988.66L1324.3 1979.66L1325.8 1971.56L1327.3 1964.48L1328.8 1956.98L1330.3 1950.02L1331.8 1943.91L1333.3 1937.77L1334.8 1931.68L1336.3 1926.64L1337.8 1922.24L1339.3 1918.58L1340.8 1915.46L1342.3 1912.68L1343.8 1910.32L1345.3 1908.47L1346.8 1906.94L1348.3 1905.6L1349.8 1904.42L1351.3 1903.36L1352.8 1902.4L1354.3 1901.51L1355.8 1900.66L1357.3 1899.87L1358.8 1899.13L1360.3 1898.46L1361.8 1897.85L1363.3 1897.32L1364.8 1896.86L1366.3 1896.44L1367.8 1896.04L1369.3 1895.68L1370.8 1895.34L1372.3 1895.04L1373.8 1894.78L1375.3 1894.55L1376.8 1894.36L1378.3 1894.16L1379.8 1893.97L1381.3 1893.79L1382.8 1893.62L1384.3 1893.48"/>
<path class="b" stroke-dashoffset="9.53" d="M1480 1893.2L1478.8 1893.2L1477.3 1893.2L1475.8 1893.2L1474.3 1893.2L1472.8 1893.2L1471.3 1893.2L1469.8 1893.2L1468.3 1893.2L1466.8 1893.2L1465.3 1893.2L1463.8 1893.2L1462.3 1893.2L1460.8 1893.2L1459.3 1893.2L1457.8 1893.2L1456.3 1893.2L1454.8 1893.2L1453.3 1893.2L1451.8 1893.2L1450.3 1893.2L1448.8 1893.2L1447.3 1893.2L1445.8 1893.2L1444.3 1893.2L1442.8 1893.2L1441.3 1893.2L1439.8 1893.2L1438.3 1893.2L1436.8 1893.2L1435.3 1893.2L1433.8 1893.2L1432.3 1893.2L1430.8 1893.2L1429.3 1893.2L1427.8 1893.2L1426.3 1893.2L1424.8 1893.2L1423.3 1893.2L1421.8 1893.2L1420.3 1893.2L1418.8 1893.2L1417.3 1893.2L1415.8 1893.2L1414.3 1893.2L1412.8 1893.2L1411.3 1893.2L1409.8 1893.2L1408.3 1893.2L1406.8 1893.2L1405.3 1893.2L1403.8 1893.2L1402.3 1893.2L1400.8 1893.2L1399.3 1893.2L1397.8 1893.2L1396.3 1893.2L1394.8 1893.2L1393.3 1893.2L1391.8 1893.2L1390.3 1893.2L1388.8 1893.21L1387.3 1893.27L1385.8 1893.36L1384.3 1893.48"/>
<rect x="246" y="2028.1" width="835.3" height="160" fill="#fff" stroke="#4d4d4f" stroke-width="1.8"/>
<use href="#m" class="r" x="316" y="2070"/>
<path class="b" d="M257 2145.6H369.4"/>
<text class="g" x="383.2" y="2091.5">z-polarization, experimental</text>
<text class="g" x="383.2" y="2166.5">z-polarization, theoretical</text>
<text class="p" x="1353.3" y="2175.4">(d)</text>
<text class="t" transform="translate(464.2 2295.6) scale(1 1.04)" text-anchor="middle">0.6</text>
<text class="t" transform="translate(718.2 2295.6) scale(1 1.04)" text-anchor="middle">0.8</text>
<text class="t" transform="translate(974.2 2295.6) scale(1 1.04)" text-anchor="middle">1</text>
<text class="t" transform="translate(1227.2 2295.6) scale(1 1.04)" text-anchor="middle">1.2</text>
<text class="t" transform="translate(1481.2 2295.6) scale(1 1.04)" text-anchor="middle">1.4</text>
<text class="t" transform="translate(192 2236.2) scale(1 1.04)" text-anchor="end">0</text>
<text class="t" transform="translate(192 2071.7) scale(1 1.04)" text-anchor="end">0.5</text>
<text class="t" transform="translate(194.5 1907.2) scale(1 1.04)" text-anchor="end">1</text>
<text class="l" x="847" y="2383.4" text-anchor="middle">Wavelength (µm)</text>
<text class="l" transform="translate(76.9 2047.2) rotate(-90)" text-anchor="middle">Transmission</text></g>
</svg></body></html>
